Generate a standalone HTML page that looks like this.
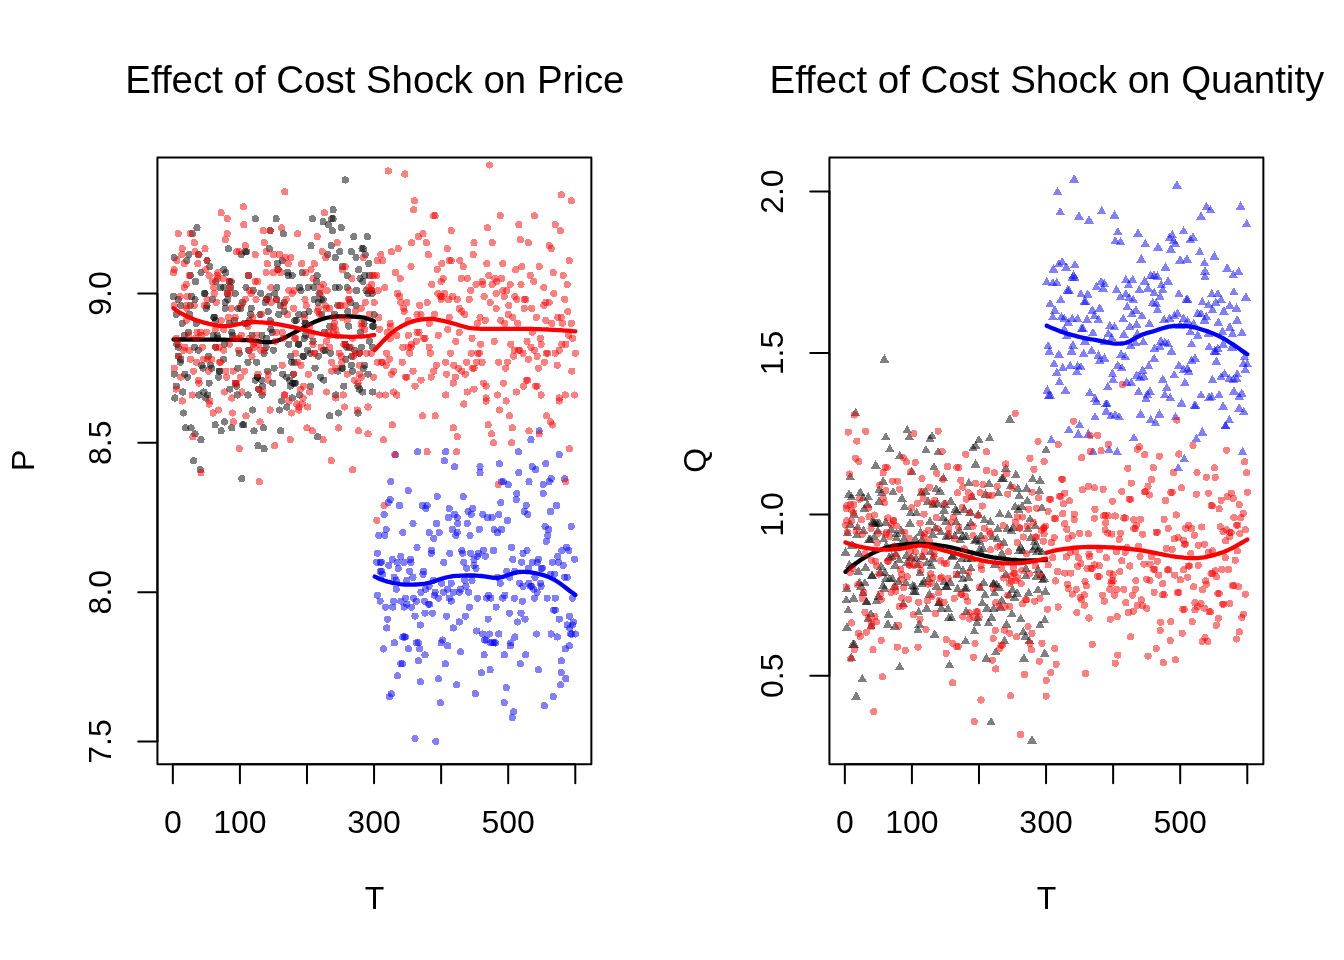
<!DOCTYPE html>
<html lang="en"><head><meta charset="utf-8"><title>Effect of Cost Shock</title>
<style>html,body{margin:0;padding:0;background:#fff}svg{display:block}text{font-family:"Liberation Sans",Arial,Helvetica,sans-serif;fill:#000}</style></head><body>
<svg width="1344" height="960" viewBox="0 0 1344 960">
<rect width="1344" height="960" fill="#fff"/>
<g fill="#000" fill-opacity="0.5" shape-rendering="crispEdges"><circle cx="345.2" cy="180.0" r="3.6"/><circle cx="333.1" cy="209.8" r="3.6"/><circle cx="331.8" cy="218.8" r="3.6"/><circle cx="333.1" cy="218.8" r="3.6"/><circle cx="312.4" cy="218.8" r="3.6"/><circle cx="323.1" cy="221.8" r="3.6"/><circle cx="328.5" cy="224.8" r="3.6"/><circle cx="341.2" cy="227.8" r="3.6"/><circle cx="332.5" cy="230.7" r="3.6"/><circle cx="255.3" cy="218.8" r="3.6"/><circle cx="276.1" cy="218.8" r="3.6"/><circle cx="197.0" cy="227.8" r="3.6"/><circle cx="192.3" cy="233.7" r="3.6"/><circle cx="283.5" cy="233.7" r="3.6"/><circle cx="353.9" cy="236.7" r="3.6"/><circle cx="367.4" cy="236.7" r="3.6"/><circle cx="311.0" cy="245.7" r="3.6"/><circle cx="331.1" cy="245.7" r="3.6"/><circle cx="228.5" cy="248.7" r="3.6"/><circle cx="269.4" cy="248.7" r="3.6"/><circle cx="362.0" cy="248.7" r="3.6"/><circle cx="363.3" cy="248.7" r="3.6"/><circle cx="270.1" cy="230.7" r="3.6"/><circle cx="183.6" cy="413.0" r="3.6"/><circle cx="252.7" cy="410.0" r="3.6"/><circle cx="279.5" cy="410.0" r="3.6"/><circle cx="286.9" cy="407.0" r="3.6"/><circle cx="281.5" cy="401.0" r="3.6"/><circle cx="329.8" cy="415.9" r="3.6"/><circle cx="338.5" cy="413.0" r="3.6"/><circle cx="358.0" cy="413.0" r="3.6"/><circle cx="224.5" cy="421.9" r="3.6"/><circle cx="215.1" cy="424.9" r="3.6"/><circle cx="242.6" cy="424.9" r="3.6"/><circle cx="243.9" cy="424.9" r="3.6"/><circle cx="185.6" cy="427.9" r="3.6"/><circle cx="191.0" cy="427.9" r="3.6"/><circle cx="231.9" cy="427.9" r="3.6"/><circle cx="263.4" cy="427.9" r="3.6"/><circle cx="221.1" cy="430.9" r="3.6"/><circle cx="254.0" cy="430.9" r="3.6"/><circle cx="280.8" cy="430.9" r="3.6"/><circle cx="195.0" cy="433.9" r="3.6"/><circle cx="317.7" cy="436.8" r="3.6"/><circle cx="201.0" cy="439.8" r="3.6"/><circle cx="258.0" cy="445.8" r="3.6"/><circle cx="264.1" cy="448.8" r="3.6"/><circle cx="193.6" cy="460.7" r="3.6"/><circle cx="200.3" cy="469.7" r="3.6"/><circle cx="241.9" cy="478.7" r="3.6"/><circle cx="174.2" cy="257.6" r="3.6"/><circle cx="188.9" cy="254.6" r="3.6"/><circle cx="186.9" cy="260.6" r="3.6"/><circle cx="241.3" cy="254.6" r="3.6"/><circle cx="245.3" cy="251.7" r="3.6"/><circle cx="246.6" cy="251.7" r="3.6"/><circle cx="198.3" cy="254.6" r="3.6"/><circle cx="209.7" cy="266.6" r="3.6"/><circle cx="223.8" cy="269.6" r="3.6"/><circle cx="201.0" cy="272.6" r="3.6"/><circle cx="190.3" cy="275.5" r="3.6"/><circle cx="207.0" cy="260.6" r="3.6"/><circle cx="229.2" cy="281.5" r="3.6"/><circle cx="220.5" cy="287.5" r="3.6"/><circle cx="223.8" cy="287.5" r="3.6"/><circle cx="215.8" cy="281.5" r="3.6"/><circle cx="227.2" cy="293.5" r="3.6"/><circle cx="235.2" cy="293.5" r="3.6"/><circle cx="253.3" cy="290.5" r="3.6"/><circle cx="260.7" cy="293.5" r="3.6"/><circle cx="276.8" cy="287.5" r="3.6"/><circle cx="204.4" cy="293.5" r="3.6"/><circle cx="205.0" cy="293.5" r="3.6"/><circle cx="191.6" cy="296.5" r="3.6"/><circle cx="195.0" cy="299.4" r="3.6"/><circle cx="178.2" cy="299.4" r="3.6"/><circle cx="212.4" cy="299.4" r="3.6"/><circle cx="225.2" cy="302.4" r="3.6"/><circle cx="180.9" cy="305.4" r="3.6"/><circle cx="225.2" cy="308.4" r="3.6"/><circle cx="190.3" cy="305.4" r="3.6"/><circle cx="207.0" cy="305.4" r="3.6"/><circle cx="237.9" cy="308.4" r="3.6"/><circle cx="242.6" cy="302.4" r="3.6"/><circle cx="265.4" cy="302.4" r="3.6"/><circle cx="266.7" cy="299.4" r="3.6"/><circle cx="268.8" cy="296.5" r="3.6"/><circle cx="268.1" cy="311.4" r="3.6"/><circle cx="260.0" cy="314.4" r="3.6"/><circle cx="189.6" cy="314.4" r="3.6"/><circle cx="176.2" cy="314.4" r="3.6"/><circle cx="213.8" cy="317.4" r="3.6"/><circle cx="182.2" cy="323.3" r="3.6"/><circle cx="234.5" cy="320.4" r="3.6"/><circle cx="229.2" cy="323.3" r="3.6"/><circle cx="249.3" cy="320.4" r="3.6"/><circle cx="244.6" cy="323.3" r="3.6"/><circle cx="270.1" cy="320.4" r="3.6"/><circle cx="196.3" cy="323.3" r="3.6"/><circle cx="215.8" cy="320.4" r="3.6"/><circle cx="248.6" cy="275.5" r="3.6"/><circle cx="327.8" cy="254.6" r="3.6"/><circle cx="339.9" cy="251.7" r="3.6"/><circle cx="335.2" cy="257.6" r="3.6"/><circle cx="351.3" cy="251.7" r="3.6"/><circle cx="356.0" cy="257.6" r="3.6"/><circle cx="368.7" cy="263.6" r="3.6"/><circle cx="282.2" cy="260.6" r="3.6"/><circle cx="342.5" cy="266.6" r="3.6"/><circle cx="278.1" cy="269.6" r="3.6"/><circle cx="287.5" cy="272.6" r="3.6"/><circle cx="292.2" cy="275.5" r="3.6"/><circle cx="302.3" cy="272.6" r="3.6"/><circle cx="317.1" cy="275.5" r="3.6"/><circle cx="347.2" cy="275.5" r="3.6"/><circle cx="364.7" cy="275.5" r="3.6"/><circle cx="369.4" cy="275.5" r="3.6"/><circle cx="316.4" cy="281.5" r="3.6"/><circle cx="362.7" cy="281.5" r="3.6"/><circle cx="299.6" cy="287.5" r="3.6"/><circle cx="301.0" cy="290.5" r="3.6"/><circle cx="308.3" cy="287.5" r="3.6"/><circle cx="313.7" cy="287.5" r="3.6"/><circle cx="335.2" cy="287.5" r="3.6"/><circle cx="339.2" cy="287.5" r="3.6"/><circle cx="347.2" cy="287.5" r="3.6"/><circle cx="356.6" cy="290.5" r="3.6"/><circle cx="366.0" cy="290.5" r="3.6"/><circle cx="368.0" cy="293.5" r="3.6"/><circle cx="276.8" cy="299.4" r="3.6"/><circle cx="280.2" cy="305.4" r="3.6"/><circle cx="284.2" cy="302.4" r="3.6"/><circle cx="314.4" cy="299.4" r="3.6"/><circle cx="321.1" cy="299.4" r="3.6"/><circle cx="323.1" cy="299.4" r="3.6"/><circle cx="318.4" cy="302.4" r="3.6"/><circle cx="350.6" cy="302.4" r="3.6"/><circle cx="356.0" cy="305.4" r="3.6"/><circle cx="337.8" cy="305.4" r="3.6"/><circle cx="278.8" cy="314.4" r="3.6"/><circle cx="284.2" cy="311.4" r="3.6"/><circle cx="298.9" cy="314.4" r="3.6"/><circle cx="304.3" cy="314.4" r="3.6"/><circle cx="296.3" cy="320.4" r="3.6"/><circle cx="305.0" cy="323.3" r="3.6"/><circle cx="305.6" cy="323.3" r="3.6"/><circle cx="321.7" cy="314.4" r="3.6"/><circle cx="334.5" cy="314.4" r="3.6"/><circle cx="188.3" cy="332.3" r="3.6"/><circle cx="184.2" cy="335.3" r="3.6"/><circle cx="213.1" cy="335.3" r="3.6"/><circle cx="231.9" cy="332.3" r="3.6"/><circle cx="232.5" cy="335.3" r="3.6"/><circle cx="252.0" cy="335.3" r="3.6"/><circle cx="262.0" cy="335.3" r="3.6"/><circle cx="266.7" cy="338.3" r="3.6"/><circle cx="270.8" cy="329.3" r="3.6"/><circle cx="178.2" cy="347.2" r="3.6"/><circle cx="194.3" cy="347.2" r="3.6"/><circle cx="198.3" cy="350.2" r="3.6"/><circle cx="215.8" cy="347.2" r="3.6"/><circle cx="224.5" cy="344.2" r="3.6"/><circle cx="239.2" cy="353.2" r="3.6"/><circle cx="248.6" cy="350.2" r="3.6"/><circle cx="264.1" cy="353.2" r="3.6"/><circle cx="273.5" cy="350.2" r="3.6"/><circle cx="178.2" cy="356.2" r="3.6"/><circle cx="180.9" cy="359.2" r="3.6"/><circle cx="208.4" cy="356.2" r="3.6"/><circle cx="223.8" cy="359.2" r="3.6"/><circle cx="248.0" cy="362.2" r="3.6"/><circle cx="256.7" cy="362.2" r="3.6"/><circle cx="201.7" cy="365.2" r="3.6"/><circle cx="203.0" cy="368.1" r="3.6"/><circle cx="210.4" cy="365.2" r="3.6"/><circle cx="211.7" cy="368.1" r="3.6"/><circle cx="219.1" cy="371.1" r="3.6"/><circle cx="219.8" cy="371.1" r="3.6"/><circle cx="237.9" cy="368.1" r="3.6"/><circle cx="274.1" cy="368.1" r="3.6"/><circle cx="267.4" cy="371.1" r="3.6"/><circle cx="174.2" cy="374.1" r="3.6"/><circle cx="184.9" cy="374.1" r="3.6"/><circle cx="257.4" cy="377.1" r="3.6"/><circle cx="257.4" cy="377.1" r="3.6"/><circle cx="255.3" cy="380.1" r="3.6"/><circle cx="209.1" cy="383.1" r="3.6"/><circle cx="272.8" cy="383.1" r="3.6"/><circle cx="176.2" cy="386.1" r="3.6"/><circle cx="235.2" cy="383.1" r="3.6"/><circle cx="229.9" cy="389.1" r="3.6"/><circle cx="236.6" cy="386.1" r="3.6"/><circle cx="182.9" cy="392.0" r="3.6"/><circle cx="203.7" cy="392.0" r="3.6"/><circle cx="199.0" cy="395.0" r="3.6"/><circle cx="205.7" cy="398.0" r="3.6"/><circle cx="237.2" cy="395.0" r="3.6"/><circle cx="248.0" cy="395.0" r="3.6"/><circle cx="262.0" cy="395.0" r="3.6"/><circle cx="174.9" cy="398.0" r="3.6"/><circle cx="258.7" cy="389.1" r="3.6"/><circle cx="329.8" cy="326.3" r="3.6"/><circle cx="348.6" cy="326.3" r="3.6"/><circle cx="372.7" cy="326.3" r="3.6"/><circle cx="373.4" cy="326.3" r="3.6"/><circle cx="360.6" cy="332.3" r="3.6"/><circle cx="324.4" cy="332.3" r="3.6"/><circle cx="305.6" cy="335.3" r="3.6"/><circle cx="304.3" cy="338.3" r="3.6"/><circle cx="369.4" cy="341.3" r="3.6"/><circle cx="372.7" cy="347.2" r="3.6"/><circle cx="288.9" cy="344.2" r="3.6"/><circle cx="298.3" cy="344.2" r="3.6"/><circle cx="298.9" cy="344.2" r="3.6"/><circle cx="313.0" cy="341.3" r="3.6"/><circle cx="345.2" cy="344.2" r="3.6"/><circle cx="349.2" cy="347.2" r="3.6"/><circle cx="354.6" cy="350.2" r="3.6"/><circle cx="359.3" cy="353.2" r="3.6"/><circle cx="307.7" cy="350.2" r="3.6"/><circle cx="310.3" cy="353.2" r="3.6"/><circle cx="303.0" cy="356.2" r="3.6"/><circle cx="303.6" cy="356.2" r="3.6"/><circle cx="325.1" cy="350.2" r="3.6"/><circle cx="330.5" cy="353.2" r="3.6"/><circle cx="323.8" cy="350.2" r="3.6"/><circle cx="318.4" cy="356.2" r="3.6"/><circle cx="345.9" cy="359.2" r="3.6"/><circle cx="291.6" cy="362.2" r="3.6"/><circle cx="294.2" cy="362.2" r="3.6"/><circle cx="351.3" cy="365.2" r="3.6"/><circle cx="341.9" cy="368.1" r="3.6"/><circle cx="342.5" cy="368.1" r="3.6"/><circle cx="337.8" cy="371.1" r="3.6"/><circle cx="364.7" cy="365.2" r="3.6"/><circle cx="363.3" cy="368.1" r="3.6"/><circle cx="352.6" cy="371.1" r="3.6"/><circle cx="315.0" cy="368.1" r="3.6"/><circle cx="368.0" cy="374.1" r="3.6"/><circle cx="282.8" cy="374.1" r="3.6"/><circle cx="286.9" cy="377.1" r="3.6"/><circle cx="289.6" cy="380.1" r="3.6"/><circle cx="293.6" cy="374.1" r="3.6"/><circle cx="320.4" cy="377.1" r="3.6"/><circle cx="323.8" cy="380.1" r="3.6"/><circle cx="294.2" cy="383.1" r="3.6"/><circle cx="295.6" cy="383.1" r="3.6"/><circle cx="290.2" cy="386.1" r="3.6"/><circle cx="310.3" cy="386.1" r="3.6"/><circle cx="343.9" cy="386.1" r="3.6"/><circle cx="358.0" cy="386.1" r="3.6"/><circle cx="359.3" cy="389.1" r="3.6"/><circle cx="362.7" cy="392.0" r="3.6"/><circle cx="372.7" cy="392.0" r="3.6"/><circle cx="335.8" cy="395.0" r="3.6"/><circle cx="299.6" cy="395.0" r="3.6"/><circle cx="292.2" cy="398.0" r="3.6"/><circle cx="371.4" cy="290.5" r="3.6"/><circle cx="272.1" cy="332.3" r="3.6"/><circle cx="251.3" cy="308.4" r="3.6"/><circle cx="346.6" cy="347.2" r="3.6"/><circle cx="206.4" cy="308.4" r="3.6"/><circle cx="288.2" cy="275.5" r="3.6"/><circle cx="207.7" cy="395.0" r="3.6"/><circle cx="358.6" cy="269.6" r="3.6"/><circle cx="240.6" cy="308.4" r="3.6"/><circle cx="231.2" cy="281.5" r="3.6"/><circle cx="230.5" cy="287.5" r="3.6"/><circle cx="266.1" cy="347.2" r="3.6"/><circle cx="309.0" cy="311.4" r="3.6"/><circle cx="347.9" cy="311.4" r="3.6"/><circle cx="217.8" cy="338.3" r="3.6"/><circle cx="247.3" cy="323.3" r="3.6"/><circle cx="294.9" cy="320.4" r="3.6"/><circle cx="292.9" cy="383.1" r="3.6"/><circle cx="180.2" cy="362.2" r="3.6"/><circle cx="250.6" cy="314.4" r="3.6"/><circle cx="365.3" cy="254.6" r="3.6"/><circle cx="218.5" cy="377.1" r="3.6"/><circle cx="372.1" cy="293.5" r="3.6"/><circle cx="217.1" cy="335.3" r="3.6"/><circle cx="173.5" cy="296.5" r="3.6"/><circle cx="364.0" cy="323.3" r="3.6"/><circle cx="277.5" cy="263.6" r="3.6"/><circle cx="176.9" cy="344.2" r="3.6"/><circle cx="195.6" cy="281.5" r="3.6"/><circle cx="227.8" cy="299.4" r="3.6"/><circle cx="187.6" cy="377.1" r="3.6"/><circle cx="290.9" cy="356.2" r="3.6"/><circle cx="319.1" cy="293.5" r="3.6"/><circle cx="361.3" cy="347.2" r="3.6"/><circle cx="262.7" cy="386.1" r="3.6"/><circle cx="261.4" cy="380.1" r="3.6"/><circle cx="351.9" cy="356.2" r="3.6"/><circle cx="360.0" cy="278.5" r="3.6"/><circle cx="214.4" cy="317.4" r="3.6"/><circle cx="274.8" cy="293.5" r="3.6"/><circle cx="246.0" cy="287.5" r="3.6"/><circle cx="225.8" cy="272.6" r="3.6"/><circle cx="374.1" cy="314.4" r="3.6"/></g>
<path d="M173.5 339.5 L176.0 339.5 L178.6 339.5 L181.1 339.5 L183.7 339.5 L186.2 339.5 L188.7 339.5 L191.3 339.5 L193.8 339.5 L196.4 339.5 L198.9 339.5 L201.4 339.5 L204.0 339.6 L206.5 339.6 L209.1 339.6 L211.6 339.6 L214.1 339.6 L216.7 339.7 L219.2 339.7 L221.7 339.7 L224.3 339.7 L226.8 339.8 L229.4 339.8 L231.9 339.8 L234.4 339.8 L237.0 339.8 L239.5 339.9 L242.1 340.0 L244.6 340.1 L247.1 340.2 L249.7 340.4 L252.2 340.6 L254.7 340.9 L257.3 341.2 L259.8 341.5 L262.4 341.8 L264.9 342.0 L267.4 342.1 L270.0 342.1 L272.5 341.8 L275.1 341.3 L277.6 340.6 L280.1 339.7 L282.7 338.6 L285.2 337.3 L287.8 336.0 L290.3 334.7 L292.8 333.3 L295.4 332.0 L297.9 330.7 L300.4 329.3 L303.0 328.0 L305.5 326.6 L308.1 325.2 L310.6 323.9 L313.1 322.6 L315.7 321.4 L318.2 320.4 L320.8 319.5 L323.3 318.7 L325.8 318.0 L328.4 317.5 L330.9 317.1 L333.4 316.8 L336.0 316.5 L338.5 316.4 L341.1 316.3 L343.6 316.3 L346.1 316.3 L348.7 316.4 L351.2 316.5 L353.8 316.6 L356.3 316.8 L358.8 317.0 L361.4 317.3 L363.9 317.7 L366.4 318.3 L369.0 319.0 L371.5 319.9 L374.1 321.1" fill="none" stroke="#000" stroke-width="4.3" stroke-linecap="round" stroke-linejoin="round"/>
<g fill="#00f" fill-opacity="0.5" shape-rendering="crispEdges"><circle cx="539.1" cy="430.9" r="3.6"/><circle cx="531.0" cy="439.8" r="3.6"/><circle cx="417.7" cy="451.8" r="3.6"/><circle cx="445.8" cy="451.8" r="3.6"/><circle cx="518.3" cy="451.8" r="3.6"/><circle cx="559.2" cy="454.8" r="3.6"/><circle cx="395.5" cy="454.8" r="3.6"/><circle cx="444.5" cy="460.7" r="3.6"/><circle cx="499.5" cy="463.7" r="3.6"/><circle cx="545.8" cy="463.7" r="3.6"/><circle cx="454.6" cy="466.7" r="3.6"/><circle cx="480.0" cy="466.7" r="3.6"/><circle cx="532.4" cy="466.7" r="3.6"/><circle cx="535.7" cy="469.7" r="3.6"/><circle cx="480.0" cy="472.7" r="3.6"/><circle cx="518.9" cy="472.7" r="3.6"/><circle cx="551.1" cy="478.7" r="3.6"/><circle cx="549.1" cy="481.7" r="3.6"/><circle cx="564.6" cy="478.7" r="3.6"/><circle cx="390.8" cy="481.7" r="3.6"/><circle cx="501.5" cy="481.7" r="3.6"/><circle cx="503.5" cy="481.7" r="3.6"/><circle cx="508.2" cy="484.6" r="3.6"/><circle cx="529.0" cy="481.7" r="3.6"/><circle cx="543.1" cy="484.6" r="3.6"/><circle cx="408.3" cy="490.6" r="3.6"/><circle cx="516.9" cy="493.6" r="3.6"/><circle cx="543.1" cy="493.6" r="3.6"/><circle cx="437.1" cy="496.6" r="3.6"/><circle cx="463.3" cy="496.6" r="3.6"/><circle cx="390.2" cy="499.6" r="3.6"/><circle cx="388.2" cy="502.6" r="3.6"/><circle cx="516.3" cy="499.6" r="3.6"/><circle cx="500.8" cy="502.6" r="3.6"/><circle cx="399.6" cy="505.5" r="3.6"/><circle cx="422.4" cy="505.5" r="3.6"/><circle cx="427.1" cy="505.5" r="3.6"/><circle cx="425.7" cy="508.5" r="3.6"/><circle cx="526.3" cy="505.5" r="3.6"/><circle cx="556.5" cy="505.5" r="3.6"/><circle cx="449.2" cy="508.5" r="3.6"/><circle cx="472.7" cy="508.5" r="3.6"/><circle cx="460.6" cy="651.9" r="3.6"/><circle cx="425.0" cy="654.9" r="3.6"/><circle cx="484.1" cy="654.9" r="3.6"/><circle cx="504.2" cy="654.9" r="3.6"/><circle cx="525.7" cy="654.9" r="3.6"/><circle cx="418.3" cy="660.9" r="3.6"/><circle cx="561.2" cy="660.9" r="3.6"/><circle cx="400.9" cy="663.9" r="3.6"/><circle cx="402.2" cy="663.9" r="3.6"/><circle cx="445.2" cy="663.9" r="3.6"/><circle cx="520.3" cy="663.9" r="3.6"/><circle cx="490.1" cy="669.8" r="3.6"/><circle cx="538.4" cy="669.8" r="3.6"/><circle cx="481.4" cy="672.8" r="3.6"/><circle cx="561.2" cy="672.8" r="3.6"/><circle cx="397.5" cy="675.8" r="3.6"/><circle cx="438.5" cy="678.8" r="3.6"/><circle cx="565.9" cy="678.8" r="3.6"/><circle cx="420.3" cy="681.8" r="3.6"/><circle cx="456.6" cy="684.8" r="3.6"/><circle cx="560.5" cy="684.8" r="3.6"/><circle cx="506.2" cy="687.8" r="3.6"/><circle cx="475.3" cy="693.7" r="3.6"/><circle cx="391.5" cy="693.7" r="3.6"/><circle cx="389.5" cy="696.7" r="3.6"/><circle cx="553.2" cy="696.7" r="3.6"/><circle cx="440.5" cy="702.7" r="3.6"/><circle cx="504.2" cy="702.7" r="3.6"/><circle cx="544.4" cy="705.7" r="3.6"/><circle cx="513.6" cy="711.7" r="3.6"/><circle cx="512.2" cy="717.6" r="3.6"/><circle cx="415.0" cy="738.5" r="3.6"/><circle cx="435.8" cy="741.5" r="3.6"/><circle cx="384.1" cy="514.5" r="3.6"/><circle cx="454.6" cy="514.5" r="3.6"/><circle cx="457.2" cy="517.5" r="3.6"/><circle cx="468.0" cy="511.5" r="3.6"/><circle cx="471.3" cy="514.5" r="3.6"/><circle cx="482.7" cy="514.5" r="3.6"/><circle cx="487.4" cy="517.5" r="3.6"/><circle cx="492.1" cy="517.5" r="3.6"/><circle cx="498.8" cy="514.5" r="3.6"/><circle cx="524.3" cy="511.5" r="3.6"/><circle cx="527.7" cy="514.5" r="3.6"/><circle cx="550.5" cy="511.5" r="3.6"/><circle cx="448.5" cy="517.5" r="3.6"/><circle cx="507.5" cy="520.5" r="3.6"/><circle cx="413.0" cy="523.5" r="3.6"/><circle cx="436.4" cy="523.5" r="3.6"/><circle cx="457.9" cy="523.5" r="3.6"/><circle cx="467.3" cy="523.5" r="3.6"/><circle cx="545.1" cy="526.5" r="3.6"/><circle cx="548.5" cy="529.4" r="3.6"/><circle cx="571.3" cy="526.5" r="3.6"/><circle cx="386.1" cy="529.4" r="3.6"/><circle cx="479.4" cy="529.4" r="3.6"/><circle cx="452.5" cy="529.4" r="3.6"/><circle cx="494.1" cy="529.4" r="3.6"/><circle cx="497.5" cy="532.4" r="3.6"/><circle cx="501.5" cy="529.4" r="3.6"/><circle cx="402.9" cy="532.4" r="3.6"/><circle cx="429.1" cy="532.4" r="3.6"/><circle cx="439.1" cy="532.4" r="3.6"/><circle cx="457.2" cy="532.4" r="3.6"/><circle cx="455.9" cy="535.4" r="3.6"/><circle cx="378.8" cy="535.4" r="3.6"/><circle cx="384.8" cy="535.4" r="3.6"/><circle cx="470.0" cy="535.4" r="3.6"/><circle cx="547.8" cy="535.4" r="3.6"/><circle cx="433.8" cy="538.4" r="3.6"/><circle cx="546.4" cy="541.4" r="3.6"/><circle cx="417.0" cy="547.4" r="3.6"/><circle cx="511.6" cy="547.4" r="3.6"/><circle cx="566.6" cy="547.4" r="3.6"/><circle cx="561.9" cy="550.4" r="3.6"/><circle cx="568.6" cy="550.4" r="3.6"/><circle cx="431.7" cy="550.4" r="3.6"/><circle cx="431.1" cy="553.3" r="3.6"/><circle cx="461.9" cy="550.4" r="3.6"/><circle cx="462.6" cy="553.3" r="3.6"/><circle cx="483.4" cy="550.4" r="3.6"/><circle cx="493.5" cy="550.4" r="3.6"/><circle cx="527.0" cy="550.4" r="3.6"/><circle cx="523.0" cy="553.3" r="3.6"/><circle cx="377.4" cy="553.3" r="3.6"/><circle cx="449.9" cy="553.3" r="3.6"/><circle cx="470.7" cy="553.3" r="3.6"/><circle cx="478.7" cy="553.3" r="3.6"/><circle cx="477.4" cy="556.3" r="3.6"/><circle cx="485.4" cy="556.3" r="3.6"/><circle cx="400.9" cy="556.3" r="3.6"/><circle cx="557.8" cy="556.3" r="3.6"/><circle cx="392.2" cy="559.3" r="3.6"/><circle cx="410.3" cy="559.3" r="3.6"/><circle cx="411.0" cy="562.3" r="3.6"/><circle cx="474.0" cy="559.3" r="3.6"/><circle cx="512.9" cy="559.3" r="3.6"/><circle cx="538.4" cy="559.3" r="3.6"/><circle cx="537.1" cy="562.3" r="3.6"/><circle cx="532.4" cy="562.3" r="3.6"/><circle cx="574.6" cy="559.3" r="3.6"/><circle cx="380.1" cy="562.3" r="3.6"/><circle cx="381.4" cy="562.3" r="3.6"/><circle cx="376.7" cy="562.3" r="3.6"/><circle cx="397.5" cy="562.3" r="3.6"/><circle cx="404.2" cy="562.3" r="3.6"/><circle cx="443.8" cy="562.3" r="3.6"/><circle cx="463.9" cy="562.3" r="3.6"/><circle cx="521.6" cy="562.3" r="3.6"/><circle cx="552.5" cy="562.3" r="3.6"/><circle cx="558.5" cy="562.3" r="3.6"/><circle cx="388.8" cy="565.3" r="3.6"/><circle cx="474.0" cy="565.3" r="3.6"/><circle cx="476.0" cy="568.3" r="3.6"/><circle cx="563.2" cy="565.3" r="3.6"/><circle cx="398.2" cy="568.3" r="3.6"/><circle cx="466.6" cy="568.3" r="3.6"/><circle cx="528.3" cy="568.3" r="3.6"/><circle cx="541.1" cy="568.3" r="3.6"/><circle cx="542.4" cy="568.3" r="3.6"/><circle cx="423.7" cy="571.3" r="3.6"/><circle cx="423.0" cy="574.2" r="3.6"/><circle cx="380.1" cy="571.3" r="3.6"/><circle cx="381.4" cy="571.3" r="3.6"/><circle cx="382.8" cy="574.2" r="3.6"/><circle cx="409.6" cy="571.3" r="3.6"/><circle cx="506.9" cy="571.3" r="3.6"/><circle cx="514.9" cy="571.3" r="3.6"/><circle cx="550.5" cy="574.2" r="3.6"/><circle cx="554.5" cy="574.2" r="3.6"/><circle cx="394.2" cy="577.2" r="3.6"/><circle cx="396.2" cy="580.2" r="3.6"/><circle cx="413.0" cy="577.2" r="3.6"/><circle cx="535.0" cy="577.2" r="3.6"/><circle cx="564.6" cy="577.2" r="3.6"/><circle cx="567.2" cy="577.2" r="3.6"/><circle cx="497.5" cy="577.2" r="3.6"/><circle cx="406.9" cy="580.2" r="3.6"/><circle cx="433.8" cy="580.2" r="3.6"/><circle cx="464.6" cy="580.2" r="3.6"/><circle cx="472.0" cy="580.2" r="3.6"/><circle cx="451.2" cy="583.2" r="3.6"/><circle cx="441.8" cy="583.2" r="3.6"/><circle cx="500.2" cy="583.2" r="3.6"/><circle cx="509.6" cy="577.2" r="3.6"/><circle cx="519.6" cy="583.2" r="3.6"/><circle cx="529.0" cy="583.2" r="3.6"/><circle cx="540.4" cy="583.2" r="3.6"/><circle cx="396.2" cy="589.2" r="3.6"/><circle cx="429.1" cy="586.2" r="3.6"/><circle cx="425.7" cy="589.2" r="3.6"/><circle cx="421.0" cy="592.2" r="3.6"/><circle cx="435.1" cy="592.2" r="3.6"/><circle cx="434.4" cy="595.2" r="3.6"/><circle cx="438.5" cy="598.1" r="3.6"/><circle cx="443.8" cy="592.2" r="3.6"/><circle cx="447.8" cy="589.2" r="3.6"/><circle cx="453.2" cy="592.2" r="3.6"/><circle cx="460.6" cy="589.2" r="3.6"/><circle cx="459.2" cy="592.2" r="3.6"/><circle cx="466.0" cy="586.2" r="3.6"/><circle cx="468.6" cy="592.2" r="3.6"/><circle cx="523.0" cy="586.2" r="3.6"/><circle cx="530.3" cy="586.2" r="3.6"/><circle cx="531.7" cy="586.2" r="3.6"/><circle cx="533.7" cy="589.2" r="3.6"/><circle cx="541.1" cy="586.2" r="3.6"/><circle cx="537.1" cy="592.2" r="3.6"/><circle cx="377.4" cy="595.2" r="3.6"/><circle cx="405.6" cy="598.1" r="3.6"/><circle cx="413.6" cy="598.1" r="3.6"/><circle cx="416.3" cy="601.1" r="3.6"/><circle cx="477.4" cy="598.1" r="3.6"/><circle cx="488.8" cy="595.2" r="3.6"/><circle cx="486.8" cy="598.1" r="3.6"/><circle cx="490.8" cy="598.1" r="3.6"/><circle cx="504.9" cy="595.2" r="3.6"/><circle cx="502.8" cy="598.1" r="3.6"/><circle cx="514.3" cy="598.1" r="3.6"/><circle cx="534.4" cy="598.1" r="3.6"/><circle cx="547.1" cy="598.1" r="3.6"/><circle cx="555.2" cy="598.1" r="3.6"/><circle cx="572.6" cy="598.1" r="3.6"/><circle cx="380.1" cy="601.1" r="3.6"/><circle cx="393.5" cy="601.1" r="3.6"/><circle cx="400.9" cy="601.1" r="3.6"/><circle cx="424.4" cy="601.1" r="3.6"/><circle cx="451.2" cy="601.1" r="3.6"/><circle cx="449.2" cy="598.1" r="3.6"/><circle cx="522.3" cy="601.1" r="3.6"/><circle cx="406.9" cy="604.1" r="3.6"/><circle cx="404.2" cy="607.1" r="3.6"/><circle cx="428.4" cy="604.1" r="3.6"/><circle cx="429.7" cy="604.1" r="3.6"/><circle cx="411.6" cy="607.1" r="3.6"/><circle cx="385.5" cy="607.1" r="3.6"/><circle cx="392.8" cy="607.1" r="3.6"/><circle cx="469.3" cy="607.1" r="3.6"/><circle cx="496.1" cy="607.1" r="3.6"/><circle cx="553.8" cy="610.1" r="3.6"/><circle cx="555.2" cy="610.1" r="3.6"/><circle cx="425.0" cy="613.1" r="3.6"/><circle cx="432.4" cy="613.1" r="3.6"/><circle cx="509.6" cy="613.1" r="3.6"/><circle cx="521.0" cy="613.1" r="3.6"/><circle cx="415.0" cy="616.1" r="3.6"/><circle cx="446.5" cy="616.1" r="3.6"/><circle cx="465.3" cy="616.1" r="3.6"/><circle cx="569.3" cy="616.1" r="3.6"/><circle cx="387.5" cy="619.1" r="3.6"/><circle cx="488.1" cy="619.1" r="3.6"/><circle cx="525.0" cy="619.1" r="3.6"/><circle cx="559.2" cy="619.1" r="3.6"/><circle cx="459.2" cy="622.0" r="3.6"/><circle cx="517.6" cy="622.0" r="3.6"/><circle cx="573.3" cy="622.0" r="3.6"/><circle cx="572.6" cy="625.0" r="3.6"/><circle cx="420.3" cy="625.0" r="3.6"/><circle cx="567.2" cy="625.0" r="3.6"/><circle cx="386.8" cy="628.0" r="3.6"/><circle cx="453.2" cy="628.0" r="3.6"/><circle cx="569.9" cy="628.0" r="3.6"/><circle cx="476.7" cy="631.0" r="3.6"/><circle cx="482.7" cy="634.0" r="3.6"/><circle cx="489.4" cy="634.0" r="3.6"/><circle cx="498.8" cy="634.0" r="3.6"/><circle cx="536.4" cy="634.0" r="3.6"/><circle cx="551.1" cy="634.0" r="3.6"/><circle cx="570.6" cy="634.0" r="3.6"/><circle cx="571.9" cy="634.0" r="3.6"/><circle cx="575.3" cy="634.0" r="3.6"/><circle cx="404.2" cy="637.0" r="3.6"/><circle cx="405.6" cy="637.0" r="3.6"/><circle cx="402.9" cy="637.0" r="3.6"/><circle cx="514.9" cy="637.0" r="3.6"/><circle cx="557.2" cy="637.0" r="3.6"/><circle cx="442.5" cy="640.0" r="3.6"/><circle cx="441.1" cy="642.9" r="3.6"/><circle cx="484.7" cy="640.0" r="3.6"/><circle cx="486.1" cy="640.0" r="3.6"/><circle cx="492.8" cy="642.9" r="3.6"/><circle cx="494.1" cy="642.9" r="3.6"/><circle cx="490.8" cy="642.9" r="3.6"/><circle cx="495.5" cy="642.9" r="3.6"/><circle cx="394.2" cy="642.9" r="3.6"/><circle cx="416.3" cy="642.9" r="3.6"/><circle cx="418.3" cy="642.9" r="3.6"/><circle cx="510.9" cy="642.9" r="3.6"/><circle cx="510.2" cy="645.9" r="3.6"/><circle cx="447.8" cy="645.9" r="3.6"/><circle cx="569.3" cy="645.9" r="3.6"/><circle cx="565.2" cy="648.9" r="3.6"/><circle cx="383.5" cy="648.9" r="3.6"/><circle cx="408.3" cy="648.9" r="3.6"/><circle cx="419.7" cy="648.9" r="3.6"/></g>
<path d="M374.7 576.6 L377.3 577.8 L379.8 579.0 L382.4 579.9 L384.9 580.8 L387.4 581.6 L390.0 582.2 L392.5 582.8 L395.0 583.3 L397.6 583.7 L400.1 584.1 L402.7 584.3 L405.2 584.5 L407.7 584.6 L410.3 584.6 L412.8 584.6 L415.4 584.5 L417.9 584.4 L420.4 584.2 L423.0 584.0 L425.5 583.6 L428.0 583.0 L430.6 582.4 L433.1 581.6 L435.7 580.7 L438.2 579.8 L440.7 579.0 L443.3 578.2 L445.8 577.5 L448.4 577.0 L450.9 576.5 L453.4 576.2 L456.0 575.9 L458.5 575.8 L461.0 575.6 L463.6 575.6 L466.1 575.5 L468.7 575.5 L471.2 575.5 L473.7 575.5 L476.3 575.6 L478.8 575.8 L481.4 576.0 L483.9 576.3 L486.4 576.7 L489.0 577.1 L491.5 577.5 L494.1 577.8 L496.6 577.9 L499.1 577.7 L501.7 577.2 L504.2 576.4 L506.7 575.5 L509.3 574.5 L511.8 573.7 L514.4 572.9 L516.9 572.3 L519.4 572.0 L522.0 571.8 L524.5 571.8 L527.1 572.0 L529.6 572.2 L532.1 572.6 L534.7 573.0 L537.2 573.5 L539.7 574.1 L542.3 574.8 L544.8 575.6 L547.4 576.5 L549.9 577.6 L552.4 578.8 L555.0 580.2 L557.5 581.8 L560.1 583.5 L562.6 585.4 L565.1 587.3 L567.7 589.2 L570.2 591.2 L572.8 593.1 L575.3 595.0" fill="none" stroke="#00f" stroke-width="4.3" stroke-linecap="round" stroke-linejoin="round"/>
<g fill="#f00" fill-opacity="0.5" shape-rendering="crispEdges"><circle cx="284.9" cy="191.9" r="3.6"/><circle cx="243.3" cy="206.8" r="3.6"/><circle cx="221.1" cy="212.8" r="3.6"/><circle cx="227.2" cy="218.8" r="3.6"/><circle cx="324.4" cy="212.8" r="3.6"/><circle cx="243.9" cy="224.8" r="3.6"/><circle cx="281.5" cy="227.8" r="3.6"/><circle cx="263.4" cy="230.7" r="3.6"/><circle cx="270.1" cy="230.7" r="3.6"/><circle cx="178.2" cy="233.7" r="3.6"/><circle cx="190.3" cy="233.7" r="3.6"/><circle cx="227.2" cy="233.7" r="3.6"/><circle cx="297.6" cy="233.7" r="3.6"/><circle cx="317.1" cy="236.7" r="3.6"/><circle cx="225.2" cy="239.7" r="3.6"/><circle cx="194.3" cy="242.7" r="3.6"/><circle cx="264.1" cy="242.7" r="3.6"/><circle cx="337.2" cy="242.7" r="3.6"/><circle cx="245.3" cy="245.7" r="3.6"/><circle cx="182.2" cy="248.7" r="3.6"/><circle cx="205.0" cy="248.7" r="3.6"/><circle cx="489.4" cy="165.0" r="3.6"/><circle cx="388.2" cy="171.0" r="3.6"/><circle cx="404.9" cy="174.0" r="3.6"/><circle cx="561.2" cy="194.9" r="3.6"/><circle cx="571.3" cy="200.9" r="3.6"/><circle cx="414.3" cy="200.9" r="3.6"/><circle cx="413.6" cy="209.8" r="3.6"/><circle cx="433.8" cy="215.8" r="3.6"/><circle cx="435.1" cy="215.8" r="3.6"/><circle cx="500.2" cy="215.8" r="3.6"/><circle cx="534.4" cy="215.8" r="3.6"/><circle cx="518.9" cy="224.8" r="3.6"/><circle cx="555.2" cy="224.8" r="3.6"/><circle cx="487.4" cy="227.8" r="3.6"/><circle cx="451.2" cy="230.7" r="3.6"/><circle cx="560.5" cy="230.7" r="3.6"/><circle cx="423.0" cy="233.7" r="3.6"/><circle cx="418.3" cy="236.7" r="3.6"/><circle cx="520.3" cy="239.7" r="3.6"/><circle cx="411.6" cy="242.7" r="3.6"/><circle cx="426.4" cy="242.7" r="3.6"/><circle cx="474.0" cy="242.7" r="3.6"/><circle cx="492.1" cy="242.7" r="3.6"/><circle cx="528.3" cy="242.7" r="3.6"/><circle cx="549.1" cy="245.7" r="3.6"/><circle cx="551.1" cy="248.7" r="3.6"/><circle cx="398.2" cy="248.7" r="3.6"/><circle cx="447.2" cy="248.7" r="3.6"/><circle cx="182.2" cy="401.0" r="3.6"/><circle cx="209.7" cy="401.0" r="3.6"/><circle cx="209.1" cy="404.0" r="3.6"/><circle cx="218.5" cy="410.0" r="3.6"/><circle cx="213.1" cy="413.0" r="3.6"/><circle cx="232.5" cy="413.0" r="3.6"/><circle cx="246.0" cy="415.9" r="3.6"/><circle cx="270.1" cy="410.0" r="3.6"/><circle cx="291.6" cy="413.0" r="3.6"/><circle cx="296.9" cy="404.0" r="3.6"/><circle cx="298.9" cy="407.0" r="3.6"/><circle cx="298.9" cy="410.0" r="3.6"/><circle cx="307.7" cy="407.0" r="3.6"/><circle cx="302.3" cy="404.0" r="3.6"/><circle cx="288.9" cy="401.0" r="3.6"/><circle cx="344.6" cy="407.0" r="3.6"/><circle cx="357.3" cy="410.0" r="3.6"/><circle cx="368.0" cy="407.0" r="3.6"/><circle cx="233.2" cy="421.9" r="3.6"/><circle cx="260.0" cy="421.9" r="3.6"/><circle cx="307.0" cy="427.9" r="3.6"/><circle cx="312.4" cy="430.9" r="3.6"/><circle cx="338.5" cy="427.9" r="3.6"/><circle cx="358.6" cy="430.9" r="3.6"/><circle cx="368.0" cy="433.9" r="3.6"/><circle cx="193.0" cy="436.8" r="3.6"/><circle cx="290.2" cy="439.8" r="3.6"/><circle cx="323.1" cy="439.8" r="3.6"/><circle cx="274.8" cy="445.8" r="3.6"/><circle cx="239.2" cy="448.8" r="3.6"/><circle cx="331.1" cy="460.7" r="3.6"/><circle cx="352.6" cy="469.7" r="3.6"/><circle cx="201.0" cy="472.7" r="3.6"/><circle cx="259.4" cy="481.7" r="3.6"/><circle cx="463.9" cy="404.0" r="3.6"/><circle cx="486.1" cy="401.0" r="3.6"/><circle cx="506.2" cy="401.0" r="3.6"/><circle cx="559.2" cy="401.0" r="3.6"/><circle cx="499.5" cy="410.0" r="3.6"/><circle cx="422.4" cy="415.9" r="3.6"/><circle cx="435.1" cy="415.9" r="3.6"/><circle cx="509.6" cy="415.9" r="3.6"/><circle cx="546.4" cy="415.9" r="3.6"/><circle cx="550.5" cy="421.9" r="3.6"/><circle cx="552.5" cy="424.9" r="3.6"/><circle cx="392.2" cy="424.9" r="3.6"/><circle cx="488.1" cy="424.9" r="3.6"/><circle cx="453.2" cy="427.9" r="3.6"/><circle cx="512.2" cy="427.9" r="3.6"/><circle cx="529.0" cy="430.9" r="3.6"/><circle cx="539.1" cy="433.9" r="3.6"/><circle cx="491.4" cy="433.9" r="3.6"/><circle cx="457.2" cy="436.8" r="3.6"/><circle cx="383.5" cy="439.8" r="3.6"/><circle cx="493.5" cy="442.8" r="3.6"/><circle cx="511.6" cy="442.8" r="3.6"/><circle cx="569.3" cy="448.8" r="3.6"/><circle cx="427.1" cy="451.8" r="3.6"/><circle cx="456.6" cy="451.8" r="3.6"/><circle cx="394.9" cy="454.8" r="3.6"/><circle cx="498.2" cy="484.6" r="3.6"/><circle cx="565.9" cy="481.7" r="3.6"/><circle cx="384.1" cy="505.5" r="3.6"/><circle cx="376.7" cy="520.5" r="3.6"/><circle cx="391.5" cy="251.7" r="3.6"/><circle cx="380.8" cy="254.6" r="3.6"/><circle cx="428.4" cy="254.6" r="3.6"/><circle cx="473.3" cy="254.6" r="3.6"/><circle cx="377.4" cy="260.6" r="3.6"/><circle cx="382.8" cy="260.6" r="3.6"/><circle cx="449.2" cy="260.6" r="3.6"/><circle cx="451.2" cy="260.6" r="3.6"/><circle cx="459.9" cy="260.6" r="3.6"/><circle cx="569.3" cy="260.6" r="3.6"/><circle cx="441.8" cy="263.6" r="3.6"/><circle cx="486.8" cy="263.6" r="3.6"/><circle cx="502.8" cy="263.6" r="3.6"/><circle cx="411.0" cy="266.6" r="3.6"/><circle cx="463.3" cy="266.6" r="3.6"/><circle cx="521.6" cy="266.6" r="3.6"/><circle cx="539.1" cy="266.6" r="3.6"/><circle cx="437.1" cy="269.6" r="3.6"/><circle cx="515.6" cy="269.6" r="3.6"/><circle cx="395.5" cy="272.6" r="3.6"/><circle cx="553.2" cy="272.6" r="3.6"/><circle cx="376.7" cy="275.5" r="3.6"/><circle cx="488.8" cy="275.5" r="3.6"/><circle cx="530.3" cy="275.5" r="3.6"/><circle cx="563.2" cy="275.5" r="3.6"/><circle cx="400.2" cy="278.5" r="3.6"/><circle cx="443.2" cy="278.5" r="3.6"/><circle cx="441.1" cy="281.5" r="3.6"/><circle cx="461.3" cy="278.5" r="3.6"/><circle cx="467.3" cy="278.5" r="3.6"/><circle cx="494.8" cy="278.5" r="3.6"/><circle cx="501.5" cy="278.5" r="3.6"/><circle cx="496.8" cy="281.5" r="3.6"/><circle cx="492.1" cy="284.5" r="3.6"/><circle cx="482.1" cy="281.5" r="3.6"/><circle cx="482.7" cy="284.5" r="3.6"/><circle cx="533.7" cy="281.5" r="3.6"/><circle cx="431.7" cy="284.5" r="3.6"/><circle cx="476.0" cy="284.5" r="3.6"/><circle cx="510.2" cy="284.5" r="3.6"/><circle cx="521.0" cy="284.5" r="3.6"/><circle cx="567.2" cy="284.5" r="3.6"/><circle cx="384.8" cy="287.5" r="3.6"/><circle cx="543.8" cy="287.5" r="3.6"/><circle cx="378.1" cy="290.5" r="3.6"/><circle cx="470.7" cy="290.5" r="3.6"/><circle cx="502.8" cy="290.5" r="3.6"/><circle cx="506.9" cy="290.5" r="3.6"/><circle cx="397.5" cy="293.5" r="3.6"/><circle cx="399.6" cy="296.5" r="3.6"/><circle cx="437.8" cy="293.5" r="3.6"/><circle cx="444.5" cy="293.5" r="3.6"/><circle cx="496.1" cy="293.5" r="3.6"/><circle cx="553.8" cy="293.5" r="3.6"/><circle cx="440.5" cy="296.5" r="3.6"/><circle cx="441.8" cy="296.5" r="3.6"/><circle cx="452.5" cy="296.5" r="3.6"/><circle cx="484.1" cy="296.5" r="3.6"/><circle cx="504.2" cy="296.5" r="3.6"/><circle cx="514.9" cy="296.5" r="3.6"/><circle cx="457.2" cy="299.4" r="3.6"/><circle cx="469.3" cy="299.4" r="3.6"/><circle cx="448.5" cy="299.4" r="3.6"/><circle cx="441.1" cy="299.4" r="3.6"/><circle cx="516.9" cy="299.4" r="3.6"/><circle cx="524.3" cy="299.4" r="3.6"/><circle cx="525.7" cy="299.4" r="3.6"/><circle cx="564.6" cy="299.4" r="3.6"/><circle cx="400.9" cy="302.4" r="3.6"/><circle cx="406.9" cy="302.4" r="3.6"/><circle cx="427.1" cy="302.4" r="3.6"/><circle cx="490.1" cy="302.4" r="3.6"/><circle cx="549.1" cy="302.4" r="3.6"/><circle cx="543.8" cy="305.4" r="3.6"/><circle cx="545.8" cy="302.4" r="3.6"/><circle cx="419.7" cy="305.4" r="3.6"/><circle cx="508.9" cy="305.4" r="3.6"/><circle cx="403.6" cy="308.4" r="3.6"/><circle cx="404.2" cy="311.4" r="3.6"/><circle cx="459.2" cy="308.4" r="3.6"/><circle cx="461.9" cy="311.4" r="3.6"/><circle cx="464.6" cy="314.4" r="3.6"/><circle cx="496.1" cy="308.4" r="3.6"/><circle cx="524.3" cy="308.4" r="3.6"/><circle cx="531.7" cy="308.4" r="3.6"/><circle cx="567.9" cy="311.4" r="3.6"/><circle cx="417.0" cy="314.4" r="3.6"/><circle cx="421.0" cy="314.4" r="3.6"/><circle cx="434.4" cy="314.4" r="3.6"/><circle cx="508.2" cy="314.4" r="3.6"/><circle cx="378.8" cy="317.4" r="3.6"/><circle cx="449.2" cy="317.4" r="3.6"/><circle cx="480.0" cy="317.4" r="3.6"/><circle cx="512.9" cy="317.4" r="3.6"/><circle cx="536.4" cy="317.4" r="3.6"/><circle cx="557.8" cy="317.4" r="3.6"/><circle cx="561.2" cy="317.4" r="3.6"/><circle cx="408.3" cy="320.4" r="3.6"/><circle cx="485.4" cy="320.4" r="3.6"/><circle cx="500.8" cy="320.4" r="3.6"/><circle cx="545.8" cy="320.4" r="3.6"/><circle cx="429.1" cy="323.3" r="3.6"/><circle cx="477.4" cy="323.3" r="3.6"/><circle cx="504.9" cy="323.3" r="3.6"/><circle cx="517.6" cy="323.3" r="3.6"/><circle cx="551.8" cy="323.3" r="3.6"/><circle cx="390.2" cy="323.3" r="3.6"/><circle cx="571.3" cy="323.3" r="3.6"/><circle cx="562.5" cy="323.3" r="3.6"/><circle cx="390.2" cy="326.3" r="3.6"/><circle cx="379.4" cy="329.3" r="3.6"/><circle cx="447.8" cy="329.3" r="3.6"/><circle cx="387.5" cy="332.3" r="3.6"/><circle cx="419.0" cy="332.3" r="3.6"/><circle cx="417.0" cy="332.3" r="3.6"/><circle cx="459.2" cy="332.3" r="3.6"/><circle cx="532.4" cy="332.3" r="3.6"/><circle cx="408.3" cy="335.3" r="3.6"/><circle cx="438.5" cy="335.3" r="3.6"/><circle cx="396.9" cy="335.3" r="3.6"/><circle cx="390.2" cy="338.3" r="3.6"/><circle cx="423.7" cy="338.3" r="3.6"/><circle cx="425.0" cy="338.3" r="3.6"/><circle cx="472.0" cy="338.3" r="3.6"/><circle cx="540.4" cy="338.3" r="3.6"/><circle cx="572.6" cy="338.3" r="3.6"/><circle cx="568.6" cy="335.3" r="3.6"/><circle cx="416.3" cy="341.3" r="3.6"/><circle cx="455.9" cy="341.3" r="3.6"/><circle cx="494.1" cy="341.3" r="3.6"/><circle cx="527.0" cy="341.3" r="3.6"/><circle cx="411.6" cy="344.2" r="3.6"/><circle cx="480.7" cy="344.2" r="3.6"/><circle cx="510.9" cy="344.2" r="3.6"/><circle cx="541.1" cy="344.2" r="3.6"/><circle cx="565.9" cy="344.2" r="3.6"/><circle cx="561.9" cy="344.2" r="3.6"/><circle cx="402.9" cy="347.2" r="3.6"/><circle cx="408.3" cy="347.2" r="3.6"/><circle cx="411.0" cy="347.2" r="3.6"/><circle cx="429.1" cy="347.2" r="3.6"/><circle cx="514.3" cy="350.2" r="3.6"/><circle cx="518.3" cy="350.2" r="3.6"/><circle cx="519.6" cy="350.2" r="3.6"/><circle cx="523.0" cy="353.2" r="3.6"/><circle cx="531.0" cy="347.2" r="3.6"/><circle cx="534.4" cy="350.2" r="3.6"/><circle cx="537.1" cy="356.2" r="3.6"/><circle cx="559.2" cy="350.2" r="3.6"/><circle cx="386.8" cy="353.2" r="3.6"/><circle cx="409.6" cy="353.2" r="3.6"/><circle cx="430.4" cy="353.2" r="3.6"/><circle cx="450.5" cy="353.2" r="3.6"/><circle cx="471.3" cy="353.2" r="3.6"/><circle cx="478.0" cy="353.2" r="3.6"/><circle cx="479.4" cy="353.2" r="3.6"/><circle cx="546.4" cy="353.2" r="3.6"/><circle cx="547.8" cy="353.2" r="3.6"/><circle cx="555.2" cy="353.2" r="3.6"/><circle cx="575.3" cy="353.2" r="3.6"/><circle cx="513.6" cy="356.2" r="3.6"/><circle cx="389.5" cy="359.2" r="3.6"/><circle cx="528.3" cy="359.2" r="3.6"/><circle cx="381.4" cy="362.2" r="3.6"/><circle cx="382.8" cy="362.2" r="3.6"/><circle cx="377.4" cy="362.2" r="3.6"/><circle cx="402.2" cy="362.2" r="3.6"/><circle cx="445.8" cy="362.2" r="3.6"/><circle cx="466.6" cy="362.2" r="3.6"/><circle cx="476.7" cy="362.2" r="3.6"/><circle cx="482.1" cy="362.2" r="3.6"/><circle cx="498.8" cy="362.2" r="3.6"/><circle cx="507.5" cy="362.2" r="3.6"/><circle cx="544.4" cy="362.2" r="3.6"/><circle cx="386.1" cy="365.2" r="3.6"/><circle cx="436.4" cy="365.2" r="3.6"/><circle cx="453.9" cy="365.2" r="3.6"/><circle cx="557.2" cy="365.2" r="3.6"/><circle cx="458.6" cy="368.1" r="3.6"/><circle cx="461.9" cy="371.1" r="3.6"/><circle cx="465.3" cy="374.1" r="3.6"/><circle cx="472.7" cy="368.1" r="3.6"/><circle cx="474.0" cy="368.1" r="3.6"/><circle cx="505.5" cy="368.1" r="3.6"/><circle cx="538.4" cy="368.1" r="3.6"/><circle cx="393.5" cy="371.1" r="3.6"/><circle cx="391.5" cy="374.1" r="3.6"/><circle cx="413.0" cy="371.1" r="3.6"/><circle cx="433.8" cy="371.1" r="3.6"/><circle cx="571.9" cy="371.1" r="3.6"/><circle cx="446.5" cy="374.1" r="3.6"/><circle cx="405.6" cy="377.1" r="3.6"/><circle cx="406.9" cy="377.1" r="3.6"/><circle cx="431.1" cy="377.1" r="3.6"/><circle cx="455.2" cy="377.1" r="3.6"/><circle cx="421.0" cy="380.1" r="3.6"/><circle cx="526.3" cy="380.1" r="3.6"/><circle cx="527.7" cy="380.1" r="3.6"/><circle cx="453.2" cy="383.1" r="3.6"/><circle cx="483.4" cy="383.1" r="3.6"/><circle cx="486.1" cy="386.1" r="3.6"/><circle cx="503.5" cy="383.1" r="3.6"/><circle cx="415.0" cy="386.1" r="3.6"/><circle cx="523.6" cy="386.1" r="3.6"/><circle cx="535.7" cy="386.1" r="3.6"/><circle cx="537.1" cy="386.1" r="3.6"/><circle cx="474.0" cy="389.1" r="3.6"/><circle cx="467.3" cy="392.0" r="3.6"/><circle cx="516.3" cy="392.0" r="3.6"/><circle cx="393.5" cy="392.0" r="3.6"/><circle cx="396.9" cy="395.0" r="3.6"/><circle cx="379.4" cy="395.0" r="3.6"/><circle cx="385.5" cy="395.0" r="3.6"/><circle cx="445.8" cy="395.0" r="3.6"/><circle cx="497.5" cy="395.0" r="3.6"/><circle cx="541.1" cy="395.0" r="3.6"/><circle cx="565.2" cy="395.0" r="3.6"/><circle cx="574.6" cy="395.0" r="3.6"/><circle cx="486.1" cy="398.0" r="3.6"/><circle cx="559.2" cy="398.0" r="3.6"/><circle cx="181.6" cy="254.6" r="3.6"/><circle cx="195.0" cy="251.7" r="3.6"/><circle cx="199.0" cy="254.6" r="3.6"/><circle cx="184.2" cy="263.6" r="3.6"/><circle cx="197.7" cy="263.6" r="3.6"/><circle cx="207.0" cy="260.6" r="3.6"/><circle cx="174.2" cy="269.6" r="3.6"/><circle cx="173.5" cy="272.6" r="3.6"/><circle cx="189.6" cy="275.5" r="3.6"/><circle cx="205.7" cy="269.6" r="3.6"/><circle cx="209.1" cy="275.5" r="3.6"/><circle cx="217.8" cy="272.6" r="3.6"/><circle cx="217.1" cy="275.5" r="3.6"/><circle cx="217.8" cy="278.5" r="3.6"/><circle cx="223.1" cy="278.5" r="3.6"/><circle cx="212.4" cy="281.5" r="3.6"/><circle cx="236.6" cy="251.7" r="3.6"/><circle cx="239.2" cy="251.7" r="3.6"/><circle cx="255.3" cy="254.6" r="3.6"/><circle cx="267.4" cy="263.6" r="3.6"/><circle cx="266.1" cy="251.7" r="3.6"/><circle cx="273.5" cy="254.6" r="3.6"/><circle cx="248.6" cy="275.5" r="3.6"/><circle cx="255.3" cy="281.5" r="3.6"/><circle cx="257.4" cy="281.5" r="3.6"/><circle cx="266.1" cy="272.6" r="3.6"/><circle cx="273.5" cy="272.6" r="3.6"/><circle cx="277.5" cy="269.6" r="3.6"/><circle cx="186.3" cy="284.5" r="3.6"/><circle cx="184.2" cy="287.5" r="3.6"/><circle cx="229.2" cy="281.5" r="3.6"/><circle cx="229.9" cy="287.5" r="3.6"/><circle cx="229.9" cy="293.5" r="3.6"/><circle cx="213.8" cy="287.5" r="3.6"/><circle cx="214.4" cy="293.5" r="3.6"/><circle cx="249.3" cy="290.5" r="3.6"/><circle cx="251.3" cy="293.5" r="3.6"/><circle cx="270.8" cy="287.5" r="3.6"/><circle cx="180.2" cy="296.5" r="3.6"/><circle cx="207.0" cy="299.4" r="3.6"/><circle cx="216.4" cy="302.4" r="3.6"/><circle cx="245.3" cy="299.4" r="3.6"/><circle cx="241.3" cy="305.4" r="3.6"/><circle cx="256.0" cy="299.4" r="3.6"/><circle cx="276.1" cy="299.4" r="3.6"/><circle cx="174.2" cy="305.4" r="3.6"/><circle cx="186.3" cy="305.4" r="3.6"/><circle cx="186.9" cy="308.4" r="3.6"/><circle cx="194.3" cy="305.4" r="3.6"/><circle cx="204.4" cy="305.4" r="3.6"/><circle cx="231.2" cy="308.4" r="3.6"/><circle cx="261.4" cy="314.4" r="3.6"/><circle cx="252.7" cy="317.4" r="3.6"/><circle cx="228.5" cy="317.4" r="3.6"/><circle cx="235.2" cy="317.4" r="3.6"/><circle cx="221.1" cy="320.4" r="3.6"/><circle cx="186.3" cy="320.4" r="3.6"/><circle cx="270.8" cy="323.3" r="3.6"/><circle cx="279.5" cy="254.6" r="3.6"/><circle cx="285.5" cy="257.6" r="3.6"/><circle cx="290.9" cy="257.6" r="3.6"/><circle cx="288.2" cy="263.6" r="3.6"/><circle cx="322.4" cy="251.7" r="3.6"/><circle cx="301.6" cy="263.6" r="3.6"/><circle cx="314.4" cy="263.6" r="3.6"/><circle cx="363.3" cy="257.6" r="3.6"/><circle cx="345.2" cy="266.6" r="3.6"/><circle cx="342.5" cy="269.6" r="3.6"/><circle cx="311.0" cy="269.6" r="3.6"/><circle cx="305.6" cy="272.6" r="3.6"/><circle cx="280.8" cy="272.6" r="3.6"/><circle cx="313.0" cy="278.5" r="3.6"/><circle cx="351.9" cy="278.5" r="3.6"/><circle cx="372.1" cy="275.5" r="3.6"/><circle cx="374.1" cy="275.5" r="3.6"/><circle cx="323.1" cy="284.5" r="3.6"/><circle cx="320.4" cy="287.5" r="3.6"/><circle cx="371.4" cy="284.5" r="3.6"/><circle cx="288.9" cy="290.5" r="3.6"/><circle cx="294.2" cy="290.5" r="3.6"/><circle cx="292.2" cy="293.5" r="3.6"/><circle cx="327.1" cy="290.5" r="3.6"/><circle cx="320.4" cy="293.5" r="3.6"/><circle cx="349.2" cy="290.5" r="3.6"/><circle cx="370.0" cy="290.5" r="3.6"/><circle cx="371.4" cy="290.5" r="3.6"/><circle cx="305.0" cy="299.4" r="3.6"/><circle cx="306.3" cy="305.4" r="3.6"/><circle cx="286.2" cy="299.4" r="3.6"/><circle cx="348.6" cy="299.4" r="3.6"/><circle cx="349.2" cy="299.4" r="3.6"/><circle cx="365.3" cy="302.4" r="3.6"/><circle cx="374.1" cy="302.4" r="3.6"/><circle cx="339.9" cy="305.4" r="3.6"/><circle cx="340.5" cy="305.4" r="3.6"/><circle cx="345.2" cy="305.4" r="3.6"/><circle cx="283.5" cy="305.4" r="3.6"/><circle cx="293.6" cy="308.4" r="3.6"/><circle cx="318.4" cy="308.4" r="3.6"/><circle cx="317.7" cy="311.4" r="3.6"/><circle cx="319.7" cy="314.4" r="3.6"/><circle cx="326.4" cy="308.4" r="3.6"/><circle cx="329.8" cy="308.4" r="3.6"/><circle cx="361.3" cy="308.4" r="3.6"/><circle cx="355.3" cy="311.4" r="3.6"/><circle cx="369.4" cy="314.4" r="3.6"/><circle cx="287.5" cy="314.4" r="3.6"/><circle cx="304.3" cy="317.4" r="3.6"/><circle cx="333.8" cy="317.4" r="3.6"/><circle cx="341.9" cy="317.4" r="3.6"/><circle cx="347.2" cy="320.4" r="3.6"/><circle cx="361.3" cy="323.3" r="3.6"/><circle cx="215.1" cy="329.3" r="3.6"/><circle cx="223.8" cy="329.3" r="3.6"/><circle cx="248.0" cy="326.3" r="3.6"/><circle cx="200.3" cy="332.3" r="3.6"/><circle cx="201.7" cy="335.3" r="3.6"/><circle cx="188.3" cy="335.3" r="3.6"/><circle cx="176.2" cy="338.3" r="3.6"/><circle cx="195.6" cy="338.3" r="3.6"/><circle cx="241.3" cy="335.3" r="3.6"/><circle cx="233.2" cy="338.3" r="3.6"/><circle cx="236.6" cy="338.3" r="3.6"/><circle cx="239.2" cy="338.3" r="3.6"/><circle cx="249.3" cy="338.3" r="3.6"/><circle cx="252.7" cy="341.3" r="3.6"/><circle cx="276.1" cy="332.3" r="3.6"/><circle cx="275.5" cy="341.3" r="3.6"/><circle cx="178.2" cy="344.2" r="3.6"/><circle cx="184.9" cy="347.2" r="3.6"/><circle cx="189.6" cy="350.2" r="3.6"/><circle cx="202.4" cy="347.2" r="3.6"/><circle cx="219.1" cy="347.2" r="3.6"/><circle cx="223.8" cy="350.2" r="3.6"/><circle cx="229.2" cy="344.2" r="3.6"/><circle cx="238.6" cy="350.2" r="3.6"/><circle cx="249.3" cy="350.2" r="3.6"/><circle cx="254.0" cy="347.2" r="3.6"/><circle cx="258.7" cy="344.2" r="3.6"/><circle cx="260.7" cy="350.2" r="3.6"/><circle cx="264.1" cy="350.2" r="3.6"/><circle cx="252.0" cy="356.2" r="3.6"/><circle cx="178.9" cy="356.2" r="3.6"/><circle cx="190.3" cy="359.2" r="3.6"/><circle cx="196.3" cy="362.2" r="3.6"/><circle cx="203.7" cy="359.2" r="3.6"/><circle cx="207.7" cy="359.2" r="3.6"/><circle cx="211.7" cy="359.2" r="3.6"/><circle cx="220.5" cy="362.2" r="3.6"/><circle cx="174.2" cy="368.1" r="3.6"/><circle cx="193.6" cy="371.1" r="3.6"/><circle cx="208.4" cy="371.1" r="3.6"/><circle cx="225.8" cy="371.1" r="3.6"/><circle cx="233.2" cy="371.1" r="3.6"/><circle cx="244.6" cy="371.1" r="3.6"/><circle cx="268.1" cy="374.1" r="3.6"/><circle cx="180.9" cy="377.1" r="3.6"/><circle cx="226.5" cy="377.1" r="3.6"/><circle cx="240.6" cy="377.1" r="3.6"/><circle cx="198.3" cy="380.1" r="3.6"/><circle cx="199.0" cy="383.1" r="3.6"/><circle cx="268.1" cy="380.1" r="3.6"/><circle cx="235.9" cy="383.1" r="3.6"/><circle cx="236.6" cy="383.1" r="3.6"/><circle cx="176.2" cy="389.1" r="3.6"/><circle cx="224.5" cy="392.0" r="3.6"/><circle cx="241.9" cy="392.0" r="3.6"/><circle cx="258.7" cy="389.1" r="3.6"/><circle cx="262.7" cy="392.0" r="3.6"/><circle cx="192.3" cy="395.0" r="3.6"/><circle cx="231.9" cy="398.0" r="3.6"/><circle cx="333.8" cy="326.3" r="3.6"/><circle cx="335.8" cy="329.3" r="3.6"/><circle cx="362.0" cy="326.3" r="3.6"/><circle cx="364.7" cy="329.3" r="3.6"/><circle cx="282.2" cy="332.3" r="3.6"/><circle cx="309.7" cy="326.3" r="3.6"/><circle cx="311.0" cy="335.3" r="3.6"/><circle cx="328.5" cy="332.3" r="3.6"/><circle cx="333.1" cy="332.3" r="3.6"/><circle cx="337.2" cy="335.3" r="3.6"/><circle cx="294.9" cy="338.3" r="3.6"/><circle cx="295.6" cy="338.3" r="3.6"/><circle cx="352.6" cy="338.3" r="3.6"/><circle cx="283.5" cy="338.3" r="3.6"/><circle cx="313.0" cy="344.2" r="3.6"/><circle cx="326.4" cy="341.3" r="3.6"/><circle cx="329.8" cy="347.2" r="3.6"/><circle cx="321.1" cy="347.2" r="3.6"/><circle cx="345.2" cy="344.2" r="3.6"/><circle cx="350.6" cy="347.2" r="3.6"/><circle cx="355.3" cy="353.2" r="3.6"/><circle cx="359.3" cy="353.2" r="3.6"/><circle cx="366.7" cy="353.2" r="3.6"/><circle cx="371.4" cy="353.2" r="3.6"/><circle cx="295.6" cy="353.2" r="3.6"/><circle cx="314.4" cy="353.2" r="3.6"/><circle cx="315.0" cy="353.2" r="3.6"/><circle cx="339.2" cy="353.2" r="3.6"/><circle cx="341.2" cy="356.2" r="3.6"/><circle cx="353.3" cy="356.2" r="3.6"/><circle cx="331.8" cy="362.2" r="3.6"/><circle cx="341.9" cy="362.2" r="3.6"/><circle cx="297.6" cy="362.2" r="3.6"/><circle cx="301.0" cy="365.2" r="3.6"/><circle cx="282.2" cy="365.2" r="3.6"/><circle cx="359.3" cy="365.2" r="3.6"/><circle cx="335.8" cy="368.1" r="3.6"/><circle cx="331.8" cy="371.1" r="3.6"/><circle cx="293.6" cy="374.1" r="3.6"/><circle cx="308.3" cy="374.1" r="3.6"/><circle cx="347.2" cy="374.1" r="3.6"/><circle cx="359.3" cy="374.1" r="3.6"/><circle cx="361.3" cy="377.1" r="3.6"/><circle cx="373.4" cy="377.1" r="3.6"/><circle cx="354.6" cy="380.1" r="3.6"/><circle cx="300.3" cy="389.1" r="3.6"/><circle cx="303.6" cy="386.1" r="3.6"/><circle cx="309.7" cy="392.0" r="3.6"/><circle cx="326.4" cy="392.0" r="3.6"/><circle cx="343.2" cy="395.0" r="3.6"/><circle cx="335.8" cy="398.0" r="3.6"/><circle cx="284.2" cy="395.0" r="3.6"/><circle cx="284.9" cy="395.0" r="3.6"/><circle cx="303.0" cy="398.0" r="3.6"/><circle cx="187.6" cy="296.5" r="3.6"/><circle cx="219.8" cy="362.2" r="3.6"/><circle cx="368.7" cy="287.5" r="3.6"/><circle cx="266.7" cy="299.4" r="3.6"/><circle cx="253.3" cy="344.2" r="3.6"/><circle cx="227.8" cy="293.5" r="3.6"/><circle cx="183.6" cy="350.2" r="3.6"/><circle cx="258.0" cy="374.1" r="3.6"/><circle cx="271.4" cy="302.4" r="3.6"/><circle cx="325.1" cy="305.4" r="3.6"/><circle cx="325.8" cy="257.6" r="3.6"/><circle cx="334.5" cy="323.3" r="3.6"/><circle cx="176.9" cy="260.6" r="3.6"/><circle cx="197.0" cy="332.3" r="3.6"/><circle cx="215.8" cy="347.2" r="3.6"/><circle cx="206.4" cy="332.3" r="3.6"/><circle cx="256.7" cy="335.3" r="3.6"/><circle cx="343.9" cy="344.2" r="3.6"/><circle cx="358.0" cy="383.1" r="3.6"/><circle cx="329.1" cy="335.3" r="3.6"/></g>
<path d="M173.5 308.2 L176.0 310.1 L178.6 311.8 L181.1 313.3 L183.7 314.7 L186.2 316.0 L188.7 317.2 L191.3 318.3 L193.8 319.3 L196.4 320.2 L198.9 321.0 L201.4 321.8 L204.0 322.6 L206.5 323.2 L209.1 323.9 L211.6 324.4 L214.1 325.0 L216.7 325.4 L219.2 325.8 L221.7 326.0 L224.3 326.1 L226.8 326.0 L229.4 325.8 L231.9 325.5 L234.4 325.0 L237.0 324.5 L239.5 324.0 L242.1 323.5 L244.6 323.1 L247.1 322.8 L249.7 322.5 L252.2 322.3 L254.7 322.2 L257.3 322.2 L259.8 322.3 L262.4 322.4 L264.9 322.6 L267.4 322.8 L270.0 323.1 L272.5 323.4 L275.1 323.8 L277.6 324.2 L280.1 324.6 L282.7 325.1 L285.2 325.6 L287.8 326.1 L290.3 326.6 L292.8 327.2 L295.4 327.7 L297.9 328.3 L300.4 329.0 L303.0 329.6 L305.5 330.3 L308.1 331.0 L310.6 331.6 L313.1 332.2 L315.7 332.8 L318.2 333.4 L320.8 333.9 L323.3 334.4 L325.8 334.9 L328.4 335.3 L330.9 335.6 L333.4 335.9 L336.0 336.1 L338.5 336.4 L341.1 336.5 L343.6 336.6 L346.1 336.7 L348.7 336.8 L351.2 336.8 L353.8 336.8 L356.3 336.7 L358.8 336.7 L361.4 336.5 L363.9 336.3 L366.4 336.1 L369.0 335.8 L371.5 335.4 L374.1 335.0" fill="none" stroke="#f00" stroke-width="4.3" stroke-linecap="round" stroke-linejoin="round"/>
<path d="M374.7 350.0 L377.3 347.3 L379.8 344.5 L382.4 341.8 L384.9 339.2 L387.4 336.7 L390.0 334.3 L392.5 332.2 L395.0 330.2 L397.6 328.5 L400.1 327.0 L402.7 325.6 L405.2 324.3 L407.7 323.2 L410.3 322.3 L412.8 321.4 L415.4 320.7 L417.9 320.1 L420.4 319.7 L423.0 319.3 L425.5 319.1 L428.0 318.9 L430.6 318.8 L433.1 319.0 L435.7 319.3 L438.2 319.8 L440.7 320.4 L443.3 320.9 L445.8 321.5 L448.4 322.2 L450.9 322.8 L453.4 323.5 L456.0 324.2 L458.5 325.0 L461.0 325.7 L463.6 326.5 L466.1 327.2 L468.7 327.8 L471.2 328.2 L473.7 328.4 L476.3 328.6 L478.8 328.7 L481.4 328.8 L483.9 328.9 L486.4 328.9 L489.0 328.9 L491.5 328.9 L494.1 328.9 L496.6 328.9 L499.1 328.9 L501.7 328.8 L504.2 328.8 L506.7 328.8 L509.3 328.8 L511.8 328.8 L514.4 328.8 L516.9 328.8 L519.4 328.8 L522.0 328.8 L524.5 328.8 L527.1 328.9 L529.6 328.9 L532.1 329.0 L534.7 329.1 L537.2 329.1 L539.7 329.2 L542.3 329.3 L544.8 329.4 L547.4 329.5 L549.9 329.6 L552.4 329.8 L555.0 329.9 L557.5 330.1 L560.1 330.2 L562.6 330.4 L565.1 330.6 L567.7 330.7 L570.2 330.9 L572.8 331.2 L575.3 331.4" fill="none" stroke="#f00" stroke-width="4.3" stroke-linecap="round" stroke-linejoin="round"/>
<g stroke="#000" stroke-width="2" fill="none" stroke-linecap="round" stroke-linejoin="round">
<rect x="157.44" y="157.44" width="433.92" height="606.72"/>
<path d="M172.84 764.16H575.29M172.84 764.16v19.2M239.92 764.16v19.2M306.99 764.16v19.2M374.06 764.16v19.2M441.14 764.16v19.2M508.21 764.16v19.2M575.29 764.16v19.2"/>
<path d="M157.44 741.52V293.47M157.44 741.52h-19.2M157.44 592.17h-19.2M157.44 442.82h-19.2M157.44 293.47h-19.2"/>
</g>
<text x="172.84" y="832.68" font-size="32" text-anchor="middle">0</text>
<text x="239.92" y="832.68" font-size="32" text-anchor="middle">100</text>
<text x="374.06" y="832.68" font-size="32" text-anchor="middle">300</text>
<text x="508.21" y="832.68" font-size="32" text-anchor="middle">500</text>
<text transform="translate(111.06 741.52) rotate(-90)" font-size="32" text-anchor="middle">7.5</text>
<text transform="translate(111.06 592.17) rotate(-90)" font-size="32" text-anchor="middle">8.0</text>
<text transform="translate(111.06 442.82) rotate(-90)" font-size="32" text-anchor="middle">8.5</text>
<text transform="translate(111.06 293.47) rotate(-90)" font-size="32" text-anchor="middle">9.0</text>
<text x="374.40" y="909.48" font-size="32" text-anchor="middle">T</text>
<text transform="translate(33.66 460.40) rotate(-90)" font-size="32" text-anchor="middle">P</text>
<text x="374.90" y="92.80" font-size="38.45" text-anchor="middle">Effect of Cost Shock on Price</text>
<g fill="#000" fill-opacity="0.5" shape-rendering="crispEdges"><path d="M884.4 354.2l4.85 8.40h-9.70z"/><path d="M855.6 407.8l4.85 8.40h-9.70z"/><path d="M1009.8 414.2l4.85 8.40h-9.70z"/><path d="M907.2 424.9l4.85 8.40h-9.70z"/><path d="M885.8 432.0l4.85 8.40h-9.70z"/><path d="M909.2 432.0l4.85 8.40h-9.70z"/><path d="M932.0 431.0l4.85 8.40h-9.70z"/><path d="M930.0 433.9l4.85 8.40h-9.70z"/><path d="M989.7 432.9l4.85 8.40h-9.70z"/><path d="M979.0 434.9l4.85 8.40h-9.70z"/><path d="M975.6 440.7l4.85 8.40h-9.70z"/><path d="M973.0 443.0l4.85 8.40h-9.70z"/><path d="M889.8 443.9l4.85 8.40h-9.70z"/><path d="M926.0 444.9l4.85 8.40h-9.70z"/><path d="M938.1 446.8l4.85 8.40h-9.70z"/><path d="M1046.1 444.9l4.85 8.40h-9.70z"/><path d="M899.8 450.7l4.85 8.40h-9.70z"/><path d="M875.7 460.1l4.85 8.40h-9.70z"/><path d="M975.6 459.1l4.85 8.40h-9.70z"/><path d="M934.0 462.0l4.85 8.40h-9.70z"/><path d="M1005.8 463.3l4.85 8.40h-9.70z"/><path d="M911.9 466.8l4.85 8.40h-9.70z"/><path d="M1015.9 469.7l4.85 8.40h-9.70z"/><path d="M850.2 472.0l4.85 8.40h-9.70z"/><path d="M943.4 473.0l4.85 8.40h-9.70z"/><path d="M1001.8 473.3l4.85 8.40h-9.70z"/><path d="M1003.1 473.3l4.85 8.40h-9.70z"/><path d="M1032.6 473.9l4.85 8.40h-9.70z"/><path d="M846.9 622.1l4.85 8.40h-9.70z"/><path d="M887.8 619.2l4.85 8.40h-9.70z"/><path d="M895.1 621.1l4.85 8.40h-9.70z"/><path d="M918.0 625.0l4.85 8.40h-9.70z"/><path d="M919.3 619.2l4.85 8.40h-9.70z"/><path d="M934.7 629.2l4.85 8.40h-9.70z"/><path d="M977.0 617.9l4.85 8.40h-9.70z"/><path d="M988.4 617.9l4.85 8.40h-9.70z"/><path d="M974.3 626.0l4.85 8.40h-9.70z"/><path d="M1006.5 619.2l4.85 8.40h-9.70z"/><path d="M1044.7 615.0l4.85 8.40h-9.70z"/><path d="M1040.0 619.8l4.85 8.40h-9.70z"/><path d="M1023.3 626.9l4.85 8.40h-9.70z"/><path d="M1025.3 631.5l4.85 8.40h-9.70z"/><path d="M1029.3 635.7l4.85 8.40h-9.70z"/><path d="M965.6 636.0l4.85 8.40h-9.70z"/><path d="M1004.5 635.7l4.85 8.40h-9.70z"/><path d="M852.9 639.2l4.85 8.40h-9.70z"/><path d="M854.2 639.2l4.85 8.40h-9.70z"/><path d="M995.8 647.0l4.85 8.40h-9.70z"/><path d="M1044.7 648.3l4.85 8.40h-9.70z"/><path d="M851.5 652.8l4.85 8.40h-9.70z"/><path d="M986.4 653.1l4.85 8.40h-9.70z"/><path d="M1023.9 653.1l4.85 8.40h-9.70z"/><path d="M949.5 659.9l4.85 8.40h-9.70z"/><path d="M899.8 661.8l4.85 8.40h-9.70z"/><path d="M862.3 673.8l4.85 8.40h-9.70z"/><path d="M856.2 691.2l4.85 8.40h-9.70z"/><path d="M991.1 717.0l4.85 8.40h-9.70z"/><path d="M1032.0 735.1l4.85 8.40h-9.70z"/><path d="M871.0 620.8l4.85 8.40h-9.70z"/><path d="M883.1 476.2l4.85 8.40h-9.70z"/><path d="M936.1 483.9l4.85 8.40h-9.70z"/><path d="M893.1 486.9l4.85 8.40h-9.70z"/><path d="M879.0 484.9l4.85 8.40h-9.70z"/><path d="M881.7 487.8l4.85 8.40h-9.70z"/><path d="M921.3 487.8l4.85 8.40h-9.70z"/><path d="M925.3 486.2l4.85 8.40h-9.70z"/><path d="M848.9 489.1l4.85 8.40h-9.70z"/><path d="M851.5 492.0l4.85 8.40h-9.70z"/><path d="M860.3 487.2l4.85 8.40h-9.70z"/><path d="M863.0 492.7l4.85 8.40h-9.70z"/><path d="M868.3 492.0l4.85 8.40h-9.70z"/><path d="M901.9 493.3l4.85 8.40h-9.70z"/><path d="M879.0 496.2l4.85 8.40h-9.70z"/><path d="M937.4 498.1l4.85 8.40h-9.70z"/><path d="M904.5 502.0l4.85 8.40h-9.70z"/><path d="M944.1 505.3l4.85 8.40h-9.70z"/><path d="M910.6 507.8l4.85 8.40h-9.70z"/><path d="M916.6 507.8l4.85 8.40h-9.70z"/><path d="M854.2 509.1l4.85 8.40h-9.70z"/><path d="M872.3 516.9l4.85 8.40h-9.70z"/><path d="M879.0 517.8l4.85 8.40h-9.70z"/><path d="M885.8 517.2l4.85 8.40h-9.70z"/><path d="M909.9 518.2l4.85 8.40h-9.70z"/><path d="M930.0 516.2l4.85 8.40h-9.70z"/><path d="M946.1 516.2l4.85 8.40h-9.70z"/><path d="M850.2 519.1l4.85 8.40h-9.70z"/><path d="M857.6 522.0l4.85 8.40h-9.70z"/><path d="M935.4 522.7l4.85 8.40h-9.70z"/><path d="M877.7 525.9l4.85 8.40h-9.70z"/><path d="M891.1 524.3l4.85 8.40h-9.70z"/><path d="M896.5 528.5l4.85 8.40h-9.70z"/><path d="M901.2 525.3l4.85 8.40h-9.70z"/><path d="M940.8 526.9l4.85 8.40h-9.70z"/><path d="M932.7 529.1l4.85 8.40h-9.70z"/><path d="M856.9 529.8l4.85 8.40h-9.70z"/><path d="M869.0 534.3l4.85 8.40h-9.70z"/><path d="M870.3 534.3l4.85 8.40h-9.70z"/><path d="M874.4 532.0l4.85 8.40h-9.70z"/><path d="M896.5 533.0l4.85 8.40h-9.70z"/><path d="M903.9 533.7l4.85 8.40h-9.70z"/><path d="M915.3 534.3l4.85 8.40h-9.70z"/><path d="M922.0 534.3l4.85 8.40h-9.70z"/><path d="M946.1 532.0l4.85 8.40h-9.70z"/><path d="M845.5 547.2l4.85 8.40h-9.70z"/><path d="M858.9 548.5l4.85 8.40h-9.70z"/><path d="M1040.0 475.2l4.85 8.40h-9.70z"/><path d="M968.9 477.8l4.85 8.40h-9.70z"/><path d="M989.1 478.5l4.85 8.40h-9.70z"/><path d="M1010.5 480.7l4.85 8.40h-9.70z"/><path d="M1017.9 483.6l4.85 8.40h-9.70z"/><path d="M1039.4 485.6l4.85 8.40h-9.70z"/><path d="M998.4 487.8l4.85 8.40h-9.70z"/><path d="M985.7 489.1l4.85 8.40h-9.70z"/><path d="M1019.2 490.7l4.85 8.40h-9.70z"/><path d="M972.3 492.0l4.85 8.40h-9.70z"/><path d="M950.8 496.2l4.85 8.40h-9.70z"/><path d="M1027.3 495.6l4.85 8.40h-9.70z"/><path d="M1042.0 502.7l4.85 8.40h-9.70z"/><path d="M1021.9 501.1l4.85 8.40h-9.70z"/><path d="M1018.6 504.3l4.85 8.40h-9.70z"/><path d="M955.5 504.3l4.85 8.40h-9.70z"/><path d="M964.2 504.3l4.85 8.40h-9.70z"/><path d="M970.3 507.2l4.85 8.40h-9.70z"/><path d="M978.3 509.8l4.85 8.40h-9.70z"/><path d="M1008.5 509.8l4.85 8.40h-9.70z"/><path d="M984.4 514.9l4.85 8.40h-9.70z"/><path d="M990.4 516.9l4.85 8.40h-9.70z"/><path d="M956.2 516.9l4.85 8.40h-9.70z"/><path d="M970.9 517.8l4.85 8.40h-9.70z"/><path d="M1030.0 514.0l4.85 8.40h-9.70z"/><path d="M1035.3 520.7l4.85 8.40h-9.70z"/><path d="M1028.0 523.7l4.85 8.40h-9.70z"/><path d="M1011.2 525.6l4.85 8.40h-9.70z"/><path d="M967.6 522.0l4.85 8.40h-9.70z"/><path d="M959.5 525.3l4.85 8.40h-9.70z"/><path d="M962.9 531.1l4.85 8.40h-9.70z"/><path d="M966.2 531.1l4.85 8.40h-9.70z"/><path d="M948.8 530.1l4.85 8.40h-9.70z"/><path d="M954.8 530.8l4.85 8.40h-9.70z"/><path d="M992.4 532.0l4.85 8.40h-9.70z"/><path d="M997.1 533.7l4.85 8.40h-9.70z"/><path d="M976.3 534.3l4.85 8.40h-9.70z"/><path d="M979.7 536.6l4.85 8.40h-9.70z"/><path d="M1030.6 532.7l4.85 8.40h-9.70z"/><path d="M1034.7 536.6l4.85 8.40h-9.70z"/><path d="M1035.3 541.1l4.85 8.40h-9.70z"/><path d="M1032.6 545.0l4.85 8.40h-9.70z"/><path d="M1038.7 544.0l4.85 8.40h-9.70z"/><path d="M1042.0 546.9l4.85 8.40h-9.70z"/><path d="M1020.6 542.1l4.85 8.40h-9.70z"/><path d="M1019.2 545.3l4.85 8.40h-9.70z"/><path d="M1022.6 545.9l4.85 8.40h-9.70z"/><path d="M979.7 544.3l4.85 8.40h-9.70z"/><path d="M1001.8 548.5l4.85 8.40h-9.70z"/><path d="M889.1 552.1l4.85 8.40h-9.70z"/><path d="M899.2 555.0l4.85 8.40h-9.70z"/><path d="M906.5 550.1l4.85 8.40h-9.70z"/><path d="M895.1 560.1l4.85 8.40h-9.70z"/><path d="M907.2 557.2l4.85 8.40h-9.70z"/><path d="M927.3 557.5l4.85 8.40h-9.70z"/><path d="M931.4 560.4l4.85 8.40h-9.70z"/><path d="M932.7 553.3l4.85 8.40h-9.70z"/><path d="M858.3 566.3l4.85 8.40h-9.70z"/><path d="M871.7 570.5l4.85 8.40h-9.70z"/><path d="M872.3 570.5l4.85 8.40h-9.70z"/><path d="M880.4 567.2l4.85 8.40h-9.70z"/><path d="M885.1 567.6l4.85 8.40h-9.70z"/><path d="M920.0 567.9l4.85 8.40h-9.70z"/><path d="M885.8 573.7l4.85 8.40h-9.70z"/><path d="M889.8 574.0l4.85 8.40h-9.70z"/><path d="M892.5 573.7l4.85 8.40h-9.70z"/><path d="M898.5 576.6l4.85 8.40h-9.70z"/><path d="M905.9 577.9l4.85 8.40h-9.70z"/><path d="M859.6 577.6l4.85 8.40h-9.70z"/><path d="M865.0 577.9l4.85 8.40h-9.70z"/><path d="M922.0 578.8l4.85 8.40h-9.70z"/><path d="M928.7 573.7l4.85 8.40h-9.70z"/><path d="M912.6 580.8l4.85 8.40h-9.70z"/><path d="M936.7 581.1l4.85 8.40h-9.70z"/><path d="M946.1 581.1l4.85 8.40h-9.70z"/><path d="M946.8 581.1l4.85 8.40h-9.70z"/><path d="M944.1 576.9l4.85 8.40h-9.70z"/><path d="M883.1 580.5l4.85 8.40h-9.70z"/><path d="M884.4 583.7l4.85 8.40h-9.70z"/><path d="M894.5 581.1l4.85 8.40h-9.70z"/><path d="M846.9 583.7l4.85 8.40h-9.70z"/><path d="M913.9 586.3l4.85 8.40h-9.70z"/><path d="M915.3 586.3l4.85 8.40h-9.70z"/><path d="M929.4 589.2l4.85 8.40h-9.70z"/><path d="M846.2 595.0l4.85 8.40h-9.70z"/><path d="M853.6 593.1l4.85 8.40h-9.70z"/><path d="M866.3 596.9l4.85 8.40h-9.70z"/><path d="M867.0 596.9l4.85 8.40h-9.70z"/><path d="M863.0 587.9l4.85 8.40h-9.70z"/><path d="M876.4 596.0l4.85 8.40h-9.70z"/><path d="M903.2 598.9l4.85 8.40h-9.70z"/><path d="M938.7 597.6l4.85 8.40h-9.70z"/><path d="M939.4 597.6l4.85 8.40h-9.70z"/><path d="M926.7 603.1l4.85 8.40h-9.70z"/><path d="M941.4 603.1l4.85 8.40h-9.70z"/><path d="M848.2 605.0l4.85 8.40h-9.70z"/><path d="M918.6 606.9l4.85 8.40h-9.70z"/><path d="M871.0 608.9l4.85 8.40h-9.70z"/><path d="M868.3 613.7l4.85 8.40h-9.70z"/><path d="M948.8 612.7l4.85 8.40h-9.70z"/><path d="M961.6 554.0l4.85 8.40h-9.70z"/><path d="M957.5 560.8l4.85 8.40h-9.70z"/><path d="M970.9 563.0l4.85 8.40h-9.70z"/><path d="M995.1 559.2l4.85 8.40h-9.70z"/><path d="M962.9 565.3l4.85 8.40h-9.70z"/><path d="M962.9 573.7l4.85 8.40h-9.70z"/><path d="M957.5 569.5l4.85 8.40h-9.70z"/><path d="M1025.9 563.7l4.85 8.40h-9.70z"/><path d="M1025.9 570.8l4.85 8.40h-9.70z"/><path d="M1005.8 569.5l4.85 8.40h-9.70z"/><path d="M1036.7 571.1l4.85 8.40h-9.70z"/><path d="M1038.0 564.6l4.85 8.40h-9.70z"/><path d="M1041.4 569.5l4.85 8.40h-9.70z"/><path d="M983.7 577.6l4.85 8.40h-9.70z"/><path d="M993.1 578.8l4.85 8.40h-9.70z"/><path d="M993.7 578.8l4.85 8.40h-9.70z"/><path d="M996.4 579.5l4.85 8.40h-9.70z"/><path d="M966.2 583.0l4.85 8.40h-9.70z"/><path d="M957.5 583.7l4.85 8.40h-9.70z"/><path d="M980.3 583.0l4.85 8.40h-9.70z"/><path d="M1012.5 584.7l4.85 8.40h-9.70z"/><path d="M1038.0 584.7l4.85 8.40h-9.70z"/><path d="M994.4 587.9l4.85 8.40h-9.70z"/><path d="M1028.6 587.9l4.85 8.40h-9.70z"/><path d="M985.0 589.8l4.85 8.40h-9.70z"/><path d="M1009.2 589.8l4.85 8.40h-9.70z"/><path d="M1001.8 595.3l4.85 8.40h-9.70z"/><path d="M982.3 597.9l4.85 8.40h-9.70z"/><path d="M987.0 603.1l4.85 8.40h-9.70z"/><path d="M993.7 603.7l4.85 8.40h-9.70z"/><path d="M1000.5 602.1l4.85 8.40h-9.70z"/><path d="M966.2 606.3l4.85 8.40h-9.70z"/><path d="M1011.9 608.9l4.85 8.40h-9.70z"/><path d="M951.5 612.7l4.85 8.40h-9.70z"/><path d="M1020.6 613.7l4.85 8.40h-9.70z"/><path d="M977.6 612.7l4.85 8.40h-9.70z"/><path d="M865.6 562.4l4.85 8.40h-9.70z"/><path d="M966.9 554.0l4.85 8.40h-9.70z"/><path d="M849.5 559.8l4.85 8.40h-9.70z"/><path d="M1044.1 573.4l4.85 8.40h-9.70z"/><path d="M1007.2 523.7l4.85 8.40h-9.70z"/><path d="M964.9 583.4l4.85 8.40h-9.70z"/><path d="M950.1 577.2l4.85 8.40h-9.70z"/><path d="M999.8 508.8l4.85 8.40h-9.70z"/><path d="M930.7 546.9l4.85 8.40h-9.70z"/><path d="M852.2 540.1l4.85 8.40h-9.70z"/><path d="M1037.3 546.2l4.85 8.40h-9.70z"/><path d="M948.1 603.7l4.85 8.40h-9.70z"/><path d="M968.3 572.1l4.85 8.40h-9.70z"/><path d="M883.7 534.0l4.85 8.40h-9.70z"/><path d="M917.3 559.5l4.85 8.40h-9.70z"/><path d="M875.0 518.5l4.85 8.40h-9.70z"/><path d="M952.2 551.1l4.85 8.40h-9.70z"/><path d="M999.1 582.1l4.85 8.40h-9.70z"/><path d="M1003.8 537.5l4.85 8.40h-9.70z"/><path d="M1013.2 522.4l4.85 8.40h-9.70z"/><path d="M1045.4 586.3l4.85 8.40h-9.70z"/><path d="M888.4 609.2l4.85 8.40h-9.70z"/><path d="M873.7 517.2l4.85 8.40h-9.70z"/><path d="M1017.2 588.2l4.85 8.40h-9.70z"/><path d="M920.6 527.2l4.85 8.40h-9.70z"/><path d="M877.0 518.5l4.85 8.40h-9.70z"/><path d="M895.8 548.8l4.85 8.40h-9.70z"/><path d="M847.5 527.8l4.85 8.40h-9.70z"/><path d="M952.8 550.1l4.85 8.40h-9.70z"/><path d="M891.8 551.4l4.85 8.40h-9.70z"/><path d="M975.0 535.3l4.85 8.40h-9.70z"/><path d="M867.6 499.4l4.85 8.40h-9.70z"/><path d="M1015.2 501.4l4.85 8.40h-9.70z"/><path d="M971.6 553.3l4.85 8.40h-9.70z"/><path d="M911.2 552.7l4.85 8.40h-9.70z"/><path d="M860.9 581.1l4.85 8.40h-9.70z"/><path d="M864.3 503.6l4.85 8.40h-9.70z"/><path d="M863.6 525.6l4.85 8.40h-9.70z"/><path d="M981.0 530.8l4.85 8.40h-9.70z"/><path d="M1026.6 483.3l4.85 8.40h-9.70z"/><path d="M983.0 543.7l4.85 8.40h-9.70z"/><path d="M991.7 612.4l4.85 8.40h-9.70z"/><path d="M1042.7 575.0l4.85 8.40h-9.70z"/><path d="M944.8 499.1l4.85 8.40h-9.70z"/><path d="M1014.5 592.4l4.85 8.40h-9.70z"/><path d="M940.1 486.2l4.85 8.40h-9.70z"/><path d="M915.9 553.3l4.85 8.40h-9.70z"/><path d="M942.8 513.0l4.85 8.40h-9.70z"/><path d="M914.6 581.4l4.85 8.40h-9.70z"/><path d="M956.9 506.2l4.85 8.40h-9.70z"/><path d="M922.6 551.4l4.85 8.40h-9.70z"/><path d="M886.4 540.8l4.85 8.40h-9.70z"/><path d="M878.4 591.1l4.85 8.40h-9.70z"/><path d="M881.1 561.1l4.85 8.40h-9.70z"/><path d="M933.4 499.4l4.85 8.40h-9.70z"/><path d="M924.0 576.6l4.85 8.40h-9.70z"/><path d="M928.0 496.2l4.85 8.40h-9.70z"/><path d="M997.8 523.7l4.85 8.40h-9.70z"/><path d="M960.2 534.9l4.85 8.40h-9.70z"/></g>
<path d="M845.5 571.8 L848.0 569.6 L850.6 567.5 L853.1 565.5 L855.7 563.5 L858.2 561.7 L860.7 559.9 L863.3 558.3 L865.8 556.8 L868.4 555.4 L870.9 554.1 L873.4 552.8 L876.0 551.6 L878.5 550.5 L881.1 549.4 L883.6 548.5 L886.1 547.7 L888.7 547.0 L891.2 546.4 L893.7 545.9 L896.3 545.4 L898.8 545.0 L901.4 544.7 L903.9 544.4 L906.4 544.2 L909.0 544.0 L911.5 543.9 L914.1 543.8 L916.6 543.7 L919.1 543.7 L921.7 543.8 L924.2 543.9 L926.7 544.0 L929.3 544.2 L931.8 544.4 L934.4 544.7 L936.9 545.0 L939.4 545.4 L942.0 545.8 L944.5 546.2 L947.1 546.7 L949.6 547.2 L952.1 547.7 L954.7 548.3 L957.2 548.9 L959.8 549.5 L962.3 550.1 L964.8 550.8 L967.4 551.4 L969.9 552.1 L972.4 552.7 L975.0 553.4 L977.5 554.0 L980.1 554.6 L982.6 555.2 L985.1 555.8 L987.7 556.3 L990.2 556.8 L992.8 557.3 L995.3 557.7 L997.8 558.1 L1000.4 558.4 L1002.9 558.7 L1005.4 559.0 L1008.0 559.3 L1010.5 559.6 L1013.1 559.8 L1015.6 560.0 L1018.1 560.2 L1020.7 560.3 L1023.2 560.4 L1025.8 560.4 L1028.3 560.5 L1030.8 560.4 L1033.4 560.4 L1035.9 560.3 L1038.4 560.2 L1041.0 560.1 L1043.5 560.0 L1046.1 559.8" fill="none" stroke="#000" stroke-width="4.3" stroke-linecap="round" stroke-linejoin="round"/>
<g fill="#00f" fill-opacity="0.5" shape-rendering="crispEdges"><path d="M1074.2 174.1l4.85 8.40h-9.70z"/><path d="M1057.5 187.0l4.85 8.40h-9.70z"/><path d="M1176.9 180.2l4.85 8.40h-9.70z"/><path d="M1240.6 201.2l4.85 8.40h-9.70z"/><path d="M1206.4 201.8l4.85 8.40h-9.70z"/><path d="M1210.4 205.0l4.85 8.40h-9.70z"/><path d="M1060.2 207.0l4.85 8.40h-9.70z"/><path d="M1101.7 206.0l4.85 8.40h-9.70z"/><path d="M1114.5 210.2l4.85 8.40h-9.70z"/><path d="M1078.9 211.2l4.85 8.40h-9.70z"/><path d="M1201.0 211.2l4.85 8.40h-9.70z"/><path d="M1089.0 215.1l4.85 8.40h-9.70z"/><path d="M1246.6 218.9l4.85 8.40h-9.70z"/><path d="M1183.6 226.0l4.85 8.40h-9.70z"/><path d="M1117.8 227.0l4.85 8.40h-9.70z"/><path d="M1138.0 228.3l4.85 8.40h-9.70z"/><path d="M1172.2 229.9l4.85 8.40h-9.70z"/><path d="M1169.5 232.8l4.85 8.40h-9.70z"/><path d="M1173.5 236.0l4.85 8.40h-9.70z"/><path d="M1175.5 238.9l4.85 8.40h-9.70z"/><path d="M1193.0 232.2l4.85 8.40h-9.70z"/><path d="M1190.3 234.7l4.85 8.40h-9.70z"/><path d="M1115.2 236.0l4.85 8.40h-9.70z"/><path d="M1120.5 237.0l4.85 8.40h-9.70z"/><path d="M1145.3 238.9l4.85 8.40h-9.70z"/><path d="M1158.1 242.2l4.85 8.40h-9.70z"/><path d="M1170.8 244.1l4.85 8.40h-9.70z"/><path d="M1199.7 247.0l4.85 8.40h-9.70z"/><path d="M1214.4 251.2l4.85 8.40h-9.70z"/><path d="M1141.3 254.1l4.85 8.40h-9.70z"/><path d="M1186.9 254.1l4.85 8.40h-9.70z"/><path d="M1180.2 255.1l4.85 8.40h-9.70z"/><path d="M1204.4 258.0l4.85 8.40h-9.70z"/><path d="M1062.2 257.0l4.85 8.40h-9.70z"/><path d="M1058.8 259.0l4.85 8.40h-9.70z"/><path d="M1074.9 259.9l4.85 8.40h-9.70z"/><path d="M1165.5 262.2l4.85 8.40h-9.70z"/><path d="M1066.2 262.2l4.85 8.40h-9.70z"/><path d="M1053.4 264.1l4.85 8.40h-9.70z"/><path d="M1227.2 263.2l4.85 8.40h-9.70z"/><path d="M1096.4 396.8l4.85 8.40h-9.70z"/><path d="M1105.8 399.0l4.85 8.40h-9.70z"/><path d="M1107.1 399.0l4.85 8.40h-9.70z"/><path d="M1181.6 398.1l4.85 8.40h-9.70z"/><path d="M1194.3 400.7l4.85 8.40h-9.70z"/><path d="M1195.6 400.7l4.85 8.40h-9.70z"/><path d="M1223.1 401.3l4.85 8.40h-9.70z"/><path d="M1239.2 403.2l4.85 8.40h-9.70z"/><path d="M1243.9 406.8l4.85 8.40h-9.70z"/><path d="M1106.4 406.2l4.85 8.40h-9.70z"/><path d="M1095.0 412.0l4.85 8.40h-9.70z"/><path d="M1111.1 411.0l4.85 8.40h-9.70z"/><path d="M1115.2 410.0l4.85 8.40h-9.70z"/><path d="M1119.2 412.0l4.85 8.40h-9.70z"/><path d="M1140.6 409.1l4.85 8.40h-9.70z"/><path d="M1159.4 409.1l4.85 8.40h-9.70z"/><path d="M1175.5 412.0l4.85 8.40h-9.70z"/><path d="M1150.7 414.9l4.85 8.40h-9.70z"/><path d="M1155.4 417.8l4.85 8.40h-9.70z"/><path d="M1229.2 414.9l4.85 8.40h-9.70z"/><path d="M1225.2 421.0l4.85 8.40h-9.70z"/><path d="M1225.8 421.0l4.85 8.40h-9.70z"/><path d="M1079.6 420.0l4.85 8.40h-9.70z"/><path d="M1068.9 424.9l4.85 8.40h-9.70z"/><path d="M1078.3 429.1l4.85 8.40h-9.70z"/><path d="M1088.3 429.1l4.85 8.40h-9.70z"/><path d="M1202.3 427.1l4.85 8.40h-9.70z"/><path d="M1133.9 432.9l4.85 8.40h-9.70z"/><path d="M1196.3 433.9l4.85 8.40h-9.70z"/><path d="M1051.4 434.9l4.85 8.40h-9.70z"/><path d="M1242.6 446.8l4.85 8.40h-9.70z"/><path d="M1093.0 446.8l4.85 8.40h-9.70z"/><path d="M1109.1 444.9l4.85 8.40h-9.70z"/><path d="M1117.2 446.8l4.85 8.40h-9.70z"/><path d="M1184.2 453.9l4.85 8.40h-9.70z"/><path d="M1178.2 463.0l4.85 8.40h-9.70z"/><path d="M1072.2 272.8l4.85 8.40h-9.70z"/><path d="M1074.9 272.8l4.85 8.40h-9.70z"/><path d="M1073.6 270.3l4.85 8.40h-9.70z"/><path d="M1046.7 277.0l4.85 8.40h-9.70z"/><path d="M1052.8 278.0l4.85 8.40h-9.70z"/><path d="M1056.8 277.7l4.85 8.40h-9.70z"/><path d="M1205.0 266.1l4.85 8.40h-9.70z"/><path d="M1205.0 271.9l4.85 8.40h-9.70z"/><path d="M1238.6 266.7l4.85 8.40h-9.70z"/><path d="M1233.2 269.9l4.85 8.40h-9.70z"/><path d="M1150.7 270.3l4.85 8.40h-9.70z"/><path d="M1154.1 270.3l4.85 8.40h-9.70z"/><path d="M1157.4 271.2l4.85 8.40h-9.70z"/><path d="M1125.9 274.8l4.85 8.40h-9.70z"/><path d="M1132.6 274.8l4.85 8.40h-9.70z"/><path d="M1144.7 276.1l4.85 8.40h-9.70z"/><path d="M1168.1 276.1l4.85 8.40h-9.70z"/><path d="M1101.1 277.0l4.85 8.40h-9.70z"/><path d="M1104.4 278.6l4.85 8.40h-9.70z"/><path d="M1096.4 281.9l4.85 8.40h-9.70z"/><path d="M1103.1 283.5l4.85 8.40h-9.70z"/><path d="M1128.6 279.9l4.85 8.40h-9.70z"/><path d="M1161.4 279.9l4.85 8.40h-9.70z"/><path d="M1148.0 283.2l4.85 8.40h-9.70z"/><path d="M1116.5 284.8l4.85 8.40h-9.70z"/><path d="M1139.3 284.8l4.85 8.40h-9.70z"/><path d="M1162.8 284.8l4.85 8.40h-9.70z"/><path d="M1067.5 285.1l4.85 8.40h-9.70z"/><path d="M1068.9 285.1l4.85 8.40h-9.70z"/><path d="M1233.9 287.0l4.85 8.40h-9.70z"/><path d="M1154.1 287.7l4.85 8.40h-9.70z"/><path d="M1080.9 289.0l4.85 8.40h-9.70z"/><path d="M1087.7 289.3l4.85 8.40h-9.70z"/><path d="M1125.9 289.0l4.85 8.40h-9.70z"/><path d="M1178.9 289.0l4.85 8.40h-9.70z"/><path d="M1211.7 289.0l4.85 8.40h-9.70z"/><path d="M1217.8 289.0l4.85 8.40h-9.70z"/><path d="M1120.5 291.9l4.85 8.40h-9.70z"/><path d="M1129.2 292.8l4.85 8.40h-9.70z"/><path d="M1133.3 294.8l4.85 8.40h-9.70z"/><path d="M1160.1 291.9l4.85 8.40h-9.70z"/><path d="M1245.9 292.2l4.85 8.40h-9.70z"/><path d="M1186.3 294.5l4.85 8.40h-9.70z"/><path d="M1187.6 294.5l4.85 8.40h-9.70z"/><path d="M1060.8 294.8l4.85 8.40h-9.70z"/><path d="M1221.1 294.8l4.85 8.40h-9.70z"/><path d="M1084.3 296.7l4.85 8.40h-9.70z"/><path d="M1085.6 296.7l4.85 8.40h-9.70z"/><path d="M1202.3 297.0l4.85 8.40h-9.70z"/><path d="M1215.8 297.4l4.85 8.40h-9.70z"/><path d="M1152.7 297.7l4.85 8.40h-9.70z"/><path d="M1156.1 298.3l4.85 8.40h-9.70z"/><path d="M1208.4 300.0l4.85 8.40h-9.70z"/><path d="M1050.1 299.0l4.85 8.40h-9.70z"/><path d="M1229.8 300.6l4.85 8.40h-9.70z"/><path d="M1127.2 301.9l4.85 8.40h-9.70z"/><path d="M1099.7 303.2l4.85 8.40h-9.70z"/><path d="M1236.6 303.2l4.85 8.40h-9.70z"/><path d="M1054.8 305.1l4.85 8.40h-9.70z"/><path d="M1135.9 305.1l4.85 8.40h-9.70z"/><path d="M1157.4 304.8l4.85 8.40h-9.70z"/><path d="M1212.4 304.8l4.85 8.40h-9.70z"/><path d="M1092.3 305.4l4.85 8.40h-9.70z"/><path d="M1223.8 306.1l4.85 8.40h-9.70z"/><path d="M1131.9 308.7l4.85 8.40h-9.70z"/><path d="M1197.7 308.3l4.85 8.40h-9.70z"/><path d="M1201.0 308.7l4.85 8.40h-9.70z"/><path d="M1177.5 308.7l4.85 8.40h-9.70z"/><path d="M1174.2 310.9l4.85 8.40h-9.70z"/><path d="M1142.0 310.9l4.85 8.40h-9.70z"/><path d="M1061.5 311.9l4.85 8.40h-9.70z"/><path d="M1052.8 311.9l4.85 8.40h-9.70z"/><path d="M1094.4 310.9l4.85 8.40h-9.70z"/><path d="M1098.4 314.5l4.85 8.40h-9.70z"/><path d="M1206.4 311.9l4.85 8.40h-9.70z"/><path d="M1064.2 313.5l4.85 8.40h-9.70z"/><path d="M1072.2 313.8l4.85 8.40h-9.70z"/><path d="M1077.6 313.8l4.85 8.40h-9.70z"/><path d="M1087.0 314.5l4.85 8.40h-9.70z"/><path d="M1123.2 313.8l4.85 8.40h-9.70z"/><path d="M1164.1 314.5l4.85 8.40h-9.70z"/><path d="M1169.5 313.5l4.85 8.40h-9.70z"/><path d="M1183.6 313.5l4.85 8.40h-9.70z"/><path d="M1187.6 316.1l4.85 8.40h-9.70z"/><path d="M1204.4 315.1l4.85 8.40h-9.70z"/><path d="M1237.2 315.1l4.85 8.40h-9.70z"/><path d="M1068.2 317.7l4.85 8.40h-9.70z"/><path d="M1149.4 318.7l4.85 8.40h-9.70z"/><path d="M1218.4 317.4l4.85 8.40h-9.70z"/><path d="M1136.6 319.3l4.85 8.40h-9.70z"/><path d="M1193.6 318.7l4.85 8.40h-9.70z"/><path d="M1109.8 320.9l4.85 8.40h-9.70z"/><path d="M1114.5 321.9l4.85 8.40h-9.70z"/><path d="M1129.9 321.6l4.85 8.40h-9.70z"/><path d="M1180.2 320.3l4.85 8.40h-9.70z"/><path d="M1229.8 322.2l4.85 8.40h-9.70z"/><path d="M1081.6 323.5l4.85 8.40h-9.70z"/><path d="M1083.0 323.5l4.85 8.40h-9.70z"/><path d="M1064.2 324.5l4.85 8.40h-9.70z"/><path d="M1222.5 326.7l4.85 8.40h-9.70z"/><path d="M1093.0 327.7l4.85 8.40h-9.70z"/><path d="M1190.3 326.7l4.85 8.40h-9.70z"/><path d="M1108.4 328.7l4.85 8.40h-9.70z"/><path d="M1123.9 329.3l4.85 8.40h-9.70z"/><path d="M1241.9 327.7l4.85 8.40h-9.70z"/><path d="M1232.5 328.7l4.85 8.40h-9.70z"/><path d="M1197.7 330.3l4.85 8.40h-9.70z"/><path d="M1066.9 330.9l4.85 8.40h-9.70z"/><path d="M1208.4 328.7l4.85 8.40h-9.70z"/><path d="M1137.3 328.7l4.85 8.40h-9.70z"/><path d="M1085.0 336.1l4.85 8.40h-9.70z"/><path d="M1111.8 332.9l4.85 8.40h-9.70z"/><path d="M1104.4 336.7l4.85 8.40h-9.70z"/><path d="M1143.3 336.7l4.85 8.40h-9.70z"/><path d="M1135.3 337.7l4.85 8.40h-9.70z"/><path d="M1130.6 340.6l4.85 8.40h-9.70z"/><path d="M1191.6 339.0l4.85 8.40h-9.70z"/><path d="M1160.8 336.1l4.85 8.40h-9.70z"/><path d="M1164.8 337.4l4.85 8.40h-9.70z"/><path d="M1168.1 338.7l4.85 8.40h-9.70z"/><path d="M1154.7 343.2l4.85 8.40h-9.70z"/><path d="M1160.1 341.9l4.85 8.40h-9.70z"/><path d="M1171.5 346.1l4.85 8.40h-9.70z"/><path d="M1223.1 339.3l4.85 8.40h-9.70z"/><path d="M1231.9 342.2l4.85 8.40h-9.70z"/><path d="M1209.1 341.9l4.85 8.40h-9.70z"/><path d="M1214.4 346.1l4.85 8.40h-9.70z"/><path d="M1215.8 346.1l4.85 8.40h-9.70z"/><path d="M1217.8 343.5l4.85 8.40h-9.70z"/><path d="M1048.1 340.9l4.85 8.40h-9.70z"/><path d="M1049.4 346.4l4.85 8.40h-9.70z"/><path d="M1072.9 340.3l4.85 8.40h-9.70z"/><path d="M1071.6 346.1l4.85 8.40h-9.70z"/><path d="M1058.8 349.3l4.85 8.40h-9.70z"/><path d="M1083.6 348.7l4.85 8.40h-9.70z"/><path d="M1091.7 345.5l4.85 8.40h-9.70z"/><path d="M1098.4 350.3l4.85 8.40h-9.70z"/><path d="M1104.4 353.2l4.85 8.40h-9.70z"/><path d="M1099.7 355.5l4.85 8.40h-9.70z"/><path d="M1121.2 349.3l4.85 8.40h-9.70z"/><path d="M1125.2 351.6l4.85 8.40h-9.70z"/><path d="M1154.1 353.5l4.85 8.40h-9.70z"/><path d="M1195.0 353.2l4.85 8.40h-9.70z"/><path d="M1191.6 355.5l4.85 8.40h-9.70z"/><path d="M1216.4 356.4l4.85 8.40h-9.70z"/><path d="M1244.6 351.9l4.85 8.40h-9.70z"/><path d="M1243.3 358.7l4.85 8.40h-9.70z"/><path d="M1247.3 359.0l4.85 8.40h-9.70z"/><path d="M1054.1 359.0l4.85 8.40h-9.70z"/><path d="M1117.8 360.3l4.85 8.40h-9.70z"/><path d="M1121.9 362.9l4.85 8.40h-9.70z"/><path d="M1070.2 360.6l4.85 8.40h-9.70z"/><path d="M1062.8 362.9l4.85 8.40h-9.70z"/><path d="M1077.6 361.0l4.85 8.40h-9.70z"/><path d="M1080.9 361.9l4.85 8.40h-9.70z"/><path d="M1076.9 366.4l4.85 8.40h-9.70z"/><path d="M1148.7 361.0l4.85 8.40h-9.70z"/><path d="M1178.9 360.6l4.85 8.40h-9.70z"/><path d="M1183.6 364.5l4.85 8.40h-9.70z"/><path d="M1187.6 363.5l4.85 8.40h-9.70z"/><path d="M1188.9 366.8l4.85 8.40h-9.70z"/><path d="M1142.7 365.2l4.85 8.40h-9.70z"/><path d="M1245.3 364.8l4.85 8.40h-9.70z"/><path d="M1056.8 367.7l4.85 8.40h-9.70z"/><path d="M1112.5 368.7l4.85 8.40h-9.70z"/><path d="M1136.6 370.6l4.85 8.40h-9.70z"/><path d="M1140.0 372.6l4.85 8.40h-9.70z"/><path d="M1144.0 371.9l4.85 8.40h-9.70z"/><path d="M1174.2 370.0l4.85 8.40h-9.70z"/><path d="M1224.5 369.0l4.85 8.40h-9.70z"/><path d="M1237.2 369.0l4.85 8.40h-9.70z"/><path d="M1221.1 371.9l4.85 8.40h-9.70z"/><path d="M1113.1 374.8l4.85 8.40h-9.70z"/><path d="M1162.8 374.5l4.85 8.40h-9.70z"/><path d="M1212.4 374.8l4.85 8.40h-9.70z"/><path d="M1229.2 373.5l4.85 8.40h-9.70z"/><path d="M1233.2 374.5l4.85 8.40h-9.70z"/><path d="M1236.6 373.5l4.85 8.40h-9.70z"/><path d="M1059.5 376.8l4.85 8.40h-9.70z"/><path d="M1126.6 377.1l4.85 8.40h-9.70z"/><path d="M1131.2 377.7l4.85 8.40h-9.70z"/><path d="M1184.9 377.7l4.85 8.40h-9.70z"/><path d="M1107.8 381.9l4.85 8.40h-9.70z"/><path d="M1166.8 382.6l4.85 8.40h-9.70z"/><path d="M1047.4 385.2l4.85 8.40h-9.70z"/><path d="M1065.5 385.5l4.85 8.40h-9.70z"/><path d="M1089.7 387.8l4.85 8.40h-9.70z"/><path d="M1138.6 386.8l4.85 8.40h-9.70z"/><path d="M1150.0 386.5l4.85 8.40h-9.70z"/><path d="M1147.3 389.4l4.85 8.40h-9.70z"/><path d="M1233.9 386.1l4.85 8.40h-9.70z"/><path d="M1241.9 388.7l4.85 8.40h-9.70z"/><path d="M1239.2 391.6l4.85 8.40h-9.70z"/><path d="M1048.7 390.3l4.85 8.40h-9.70z"/><path d="M1050.1 390.3l4.85 8.40h-9.70z"/><path d="M1164.8 390.0l4.85 8.40h-9.70z"/><path d="M1170.2 392.6l4.85 8.40h-9.70z"/><path d="M1201.0 390.0l4.85 8.40h-9.70z"/><path d="M1219.1 390.0l4.85 8.40h-9.70z"/><path d="M1209.1 392.3l4.85 8.40h-9.70z"/><path d="M1211.7 391.9l4.85 8.40h-9.70z"/><path d="M1095.0 393.6l4.85 8.40h-9.70z"/><path d="M1146.0 393.9l4.85 8.40h-9.70z"/></g>
<path d="M1046.7 325.7 L1049.3 326.9 L1051.8 328.1 L1054.4 329.1 L1056.9 330.1 L1059.4 331.1 L1062.0 331.9 L1064.5 332.8 L1067.0 333.6 L1069.6 334.3 L1072.1 335.0 L1074.7 335.7 L1077.2 336.4 L1079.7 337.0 L1082.3 337.6 L1084.8 338.1 L1087.4 338.6 L1089.9 339.1 L1092.4 339.5 L1095.0 339.9 L1097.5 340.4 L1100.0 340.9 L1102.6 341.4 L1105.1 341.9 L1107.7 342.4 L1110.2 342.9 L1112.7 343.3 L1115.3 343.6 L1117.8 343.7 L1120.4 343.7 L1122.9 343.5 L1125.4 343.0 L1128.0 342.1 L1130.5 340.8 L1133.0 339.4 L1135.6 337.9 L1138.1 336.6 L1140.7 335.3 L1143.2 334.3 L1145.7 333.4 L1148.3 332.7 L1150.8 332.0 L1153.4 331.3 L1155.9 330.5 L1158.4 329.6 L1161.0 328.8 L1163.5 328.0 L1166.1 327.3 L1168.6 326.7 L1171.1 326.3 L1173.7 326.0 L1176.2 325.9 L1178.7 325.9 L1181.3 325.9 L1183.8 326.0 L1186.4 326.1 L1188.9 326.4 L1191.4 326.8 L1194.0 327.3 L1196.5 328.0 L1199.1 328.7 L1201.6 329.5 L1204.1 330.3 L1206.7 331.1 L1209.2 332.0 L1211.7 332.9 L1214.3 334.0 L1216.8 335.1 L1219.4 336.3 L1221.9 337.6 L1224.4 339.0 L1227.0 340.6 L1229.5 342.2 L1232.1 343.8 L1234.6 345.6 L1237.1 347.3 L1239.7 349.1 L1242.2 350.9 L1244.8 352.6 L1247.3 354.3" fill="none" stroke="#00f" stroke-width="4.3" stroke-linecap="round" stroke-linejoin="round"/>
<g fill="#f00" fill-opacity="0.5" shape-rendering="crispEdges"><circle cx="1073.6" cy="421.1" r="3.6"/><circle cx="1176.9" cy="420.1" r="3.6"/><circle cx="1090.3" cy="435.6" r="3.6"/><circle cx="1097.7" cy="435.3" r="3.6"/><circle cx="1058.1" cy="444.4" r="3.6"/><circle cx="1108.4" cy="444.4" r="3.6"/><circle cx="1193.0" cy="445.3" r="3.6"/><circle cx="1137.3" cy="449.2" r="3.6"/><circle cx="1139.3" cy="446.9" r="3.6"/><circle cx="1226.5" cy="450.2" r="3.6"/><circle cx="1090.3" cy="451.5" r="3.6"/><circle cx="1101.1" cy="450.8" r="3.6"/><circle cx="1178.9" cy="454.0" r="3.6"/><circle cx="1144.7" cy="454.7" r="3.6"/><circle cx="1159.4" cy="456.3" r="3.6"/><circle cx="1081.6" cy="457.6" r="3.6"/><circle cx="1244.6" cy="461.8" r="3.6"/><circle cx="1127.9" cy="468.2" r="3.6"/><circle cx="1153.4" cy="467.6" r="3.6"/><circle cx="1214.4" cy="467.9" r="3.6"/><circle cx="1173.5" cy="472.4" r="3.6"/><circle cx="1197.0" cy="472.4" r="3.6"/><circle cx="1246.6" cy="472.8" r="3.6"/><circle cx="1206.4" cy="477.3" r="3.6"/><circle cx="1215.1" cy="477.3" r="3.6"/><circle cx="1151.4" cy="479.5" r="3.6"/><circle cx="1061.5" cy="479.2" r="3.6"/><circle cx="1062.8" cy="479.2" r="3.6"/><circle cx="854.2" cy="415.0" r="3.6"/><circle cx="1015.2" cy="413.4" r="3.6"/><circle cx="848.2" cy="432.1" r="3.6"/><circle cx="865.6" cy="431.4" r="3.6"/><circle cx="938.1" cy="431.1" r="3.6"/><circle cx="913.9" cy="433.7" r="3.6"/><circle cx="856.9" cy="441.1" r="3.6"/><circle cx="1038.0" cy="441.4" r="3.6"/><circle cx="942.1" cy="451.5" r="3.6"/><circle cx="986.4" cy="451.8" r="3.6"/><circle cx="965.6" cy="454.4" r="3.6"/><circle cx="855.6" cy="458.2" r="3.6"/><circle cx="858.9" cy="461.5" r="3.6"/><circle cx="903.2" cy="457.6" r="3.6"/><circle cx="906.5" cy="461.8" r="3.6"/><circle cx="1030.0" cy="458.2" r="3.6"/><circle cx="1044.1" cy="461.5" r="3.6"/><circle cx="915.3" cy="462.4" r="3.6"/><circle cx="947.5" cy="466.6" r="3.6"/><circle cx="956.9" cy="467.6" r="3.6"/><circle cx="958.9" cy="467.6" r="3.6"/><circle cx="885.1" cy="467.6" r="3.6"/><circle cx="887.1" cy="467.6" r="3.6"/><circle cx="1005.8" cy="464.0" r="3.6"/><circle cx="1034.0" cy="469.2" r="3.6"/><circle cx="986.4" cy="470.5" r="3.6"/><circle cx="883.1" cy="472.8" r="3.6"/><circle cx="910.6" cy="471.8" r="3.6"/><circle cx="936.7" cy="473.4" r="3.6"/><circle cx="994.4" cy="472.8" r="3.6"/><circle cx="1006.5" cy="473.7" r="3.6"/><circle cx="849.5" cy="474.0" r="3.6"/><circle cx="922.0" cy="478.6" r="3.6"/><circle cx="942.8" cy="479.5" r="3.6"/><circle cx="851.5" cy="622.9" r="3.6"/><circle cx="898.5" cy="625.4" r="3.6"/><circle cx="926.0" cy="629.6" r="3.6"/><circle cx="871.7" cy="623.2" r="3.6"/><circle cx="876.4" cy="621.6" r="3.6"/><circle cx="871.7" cy="626.7" r="3.6"/><circle cx="858.3" cy="633.2" r="3.6"/><circle cx="860.3" cy="636.4" r="3.6"/><circle cx="866.3" cy="632.2" r="3.6"/><circle cx="881.1" cy="640.3" r="3.6"/><circle cx="946.1" cy="639.6" r="3.6"/><circle cx="952.8" cy="643.2" r="3.6"/><circle cx="956.9" cy="646.7" r="3.6"/><circle cx="958.2" cy="646.7" r="3.6"/><circle cx="995.1" cy="630.3" r="3.6"/><circle cx="1004.5" cy="630.3" r="3.6"/><circle cx="1009.8" cy="633.2" r="3.6"/><circle cx="1016.6" cy="636.7" r="3.6"/><circle cx="1028.0" cy="626.4" r="3.6"/><circle cx="1032.0" cy="633.2" r="3.6"/><circle cx="993.1" cy="638.4" r="3.6"/><circle cx="975.0" cy="643.5" r="3.6"/><circle cx="1001.1" cy="645.1" r="3.6"/><circle cx="1002.5" cy="645.1" r="3.6"/><circle cx="999.8" cy="648.4" r="3.6"/><circle cx="1030.0" cy="643.2" r="3.6"/><circle cx="1042.0" cy="643.2" r="3.6"/><circle cx="1031.3" cy="649.7" r="3.6"/><circle cx="854.2" cy="649.7" r="3.6"/><circle cx="873.0" cy="649.7" r="3.6"/><circle cx="897.2" cy="647.1" r="3.6"/><circle cx="905.2" cy="650.3" r="3.6"/><circle cx="918.0" cy="647.1" r="3.6"/><circle cx="946.1" cy="653.2" r="3.6"/><circle cx="973.6" cy="657.1" r="3.6"/><circle cx="850.9" cy="658.7" r="3.6"/><circle cx="992.4" cy="660.3" r="3.6"/><circle cx="1039.4" cy="661.3" r="3.6"/><circle cx="995.8" cy="669.0" r="3.6"/><circle cx="1050.8" cy="672.6" r="3.6"/><circle cx="1024.6" cy="674.5" r="3.6"/><circle cx="882.4" cy="676.8" r="3.6"/><circle cx="1046.1" cy="680.3" r="3.6"/><circle cx="952.8" cy="682.9" r="3.6"/><circle cx="1010.5" cy="695.8" r="3.6"/><circle cx="1046.1" cy="696.1" r="3.6"/><circle cx="981.0" cy="700.0" r="3.6"/><circle cx="873.7" cy="711.6" r="3.6"/><circle cx="974.3" cy="721.6" r="3.6"/><circle cx="1020.6" cy="734.5" r="3.6"/><circle cx="1054.8" cy="648.4" r="3.6"/><circle cx="1056.1" cy="664.2" r="3.6"/><circle cx="1160.8" cy="622.2" r="3.6"/><circle cx="1170.8" cy="621.6" r="3.6"/><circle cx="1192.3" cy="621.6" r="3.6"/><circle cx="1216.4" cy="625.4" r="3.6"/><circle cx="1160.1" cy="630.6" r="3.6"/><circle cx="1182.2" cy="633.2" r="3.6"/><circle cx="1239.2" cy="631.9" r="3.6"/><circle cx="1130.6" cy="636.7" r="3.6"/><circle cx="1170.2" cy="640.6" r="3.6"/><circle cx="1205.0" cy="637.4" r="3.6"/><circle cx="1202.3" cy="641.3" r="3.6"/><circle cx="1207.7" cy="641.3" r="3.6"/><circle cx="1236.6" cy="639.0" r="3.6"/><circle cx="1092.3" cy="644.5" r="3.6"/><circle cx="1156.1" cy="648.4" r="3.6"/><circle cx="1117.8" cy="655.1" r="3.6"/><circle cx="1148.0" cy="656.1" r="3.6"/><circle cx="1175.5" cy="659.7" r="3.6"/><circle cx="1163.4" cy="662.6" r="3.6"/><circle cx="1115.2" cy="663.2" r="3.6"/><circle cx="1085.6" cy="673.5" r="3.6"/><circle cx="1122.5" cy="384.6" r="3.6"/><circle cx="1131.2" cy="483.1" r="3.6"/><circle cx="1088.3" cy="486.3" r="3.6"/><circle cx="1082.3" cy="489.9" r="3.6"/><circle cx="1094.4" cy="487.9" r="3.6"/><circle cx="1103.1" cy="489.2" r="3.6"/><circle cx="1181.6" cy="487.9" r="3.6"/><circle cx="1148.0" cy="486.3" r="3.6"/><circle cx="1144.7" cy="491.8" r="3.6"/><circle cx="1145.3" cy="491.8" r="3.6"/><circle cx="1149.4" cy="495.0" r="3.6"/><circle cx="1121.9" cy="491.5" r="3.6"/><circle cx="1170.8" cy="492.4" r="3.6"/><circle cx="1172.2" cy="492.4" r="3.6"/><circle cx="1247.3" cy="492.1" r="3.6"/><circle cx="1064.8" cy="493.1" r="3.6"/><circle cx="1059.5" cy="496.3" r="3.6"/><circle cx="1060.8" cy="496.3" r="3.6"/><circle cx="1196.3" cy="494.1" r="3.6"/><circle cx="1208.4" cy="493.1" r="3.6"/><circle cx="1231.2" cy="493.1" r="3.6"/><circle cx="1227.2" cy="496.6" r="3.6"/><circle cx="1233.2" cy="498.3" r="3.6"/><circle cx="1049.4" cy="499.2" r="3.6"/><circle cx="1050.8" cy="499.2" r="3.6"/><circle cx="1129.2" cy="499.2" r="3.6"/><circle cx="1130.6" cy="499.2" r="3.6"/><circle cx="1069.5" cy="500.8" r="3.6"/><circle cx="1112.5" cy="501.2" r="3.6"/><circle cx="1165.5" cy="500.5" r="3.6"/><circle cx="1221.1" cy="500.2" r="3.6"/><circle cx="1063.5" cy="503.7" r="3.6"/><circle cx="1239.2" cy="504.7" r="3.6"/><circle cx="1211.1" cy="505.7" r="3.6"/><circle cx="1212.4" cy="505.7" r="3.6"/><circle cx="1095.0" cy="509.2" r="3.6"/><circle cx="1219.1" cy="508.9" r="3.6"/><circle cx="1048.1" cy="511.2" r="3.6"/><circle cx="1062.8" cy="513.8" r="3.6"/><circle cx="1074.2" cy="514.1" r="3.6"/><circle cx="1243.3" cy="513.4" r="3.6"/><circle cx="1176.2" cy="515.0" r="3.6"/><circle cx="1103.7" cy="515.7" r="3.6"/><circle cx="1105.1" cy="515.7" r="3.6"/><circle cx="1108.4" cy="515.7" r="3.6"/><circle cx="1115.2" cy="516.0" r="3.6"/><circle cx="1123.9" cy="518.0" r="3.6"/><circle cx="1125.2" cy="518.0" r="3.6"/><circle cx="1094.4" cy="518.3" r="3.6"/><circle cx="1054.1" cy="518.6" r="3.6"/><circle cx="1055.5" cy="518.6" r="3.6"/><circle cx="1140.6" cy="519.2" r="3.6"/><circle cx="1074.2" cy="519.6" r="3.6"/><circle cx="1133.9" cy="519.9" r="3.6"/><circle cx="1164.1" cy="519.2" r="3.6"/><circle cx="1233.9" cy="517.6" r="3.6"/><circle cx="1240.6" cy="517.6" r="3.6"/><circle cx="1105.8" cy="522.8" r="3.6"/><circle cx="1064.8" cy="523.8" r="3.6"/><circle cx="1136.6" cy="525.1" r="3.6"/><circle cx="1188.3" cy="525.1" r="3.6"/><circle cx="1185.6" cy="528.3" r="3.6"/><circle cx="1191.6" cy="528.6" r="3.6"/><circle cx="1220.5" cy="526.7" r="3.6"/><circle cx="1236.6" cy="525.1" r="3.6"/><circle cx="1237.9" cy="525.1" r="3.6"/><circle cx="1201.7" cy="527.0" r="3.6"/><circle cx="1066.9" cy="529.2" r="3.6"/><circle cx="1168.1" cy="528.3" r="3.6"/><circle cx="1133.9" cy="528.6" r="3.6"/><circle cx="1135.3" cy="528.6" r="3.6"/><circle cx="1105.1" cy="529.9" r="3.6"/><circle cx="1107.8" cy="533.1" r="3.6"/><circle cx="1111.8" cy="534.1" r="3.6"/><circle cx="1245.3" cy="529.9" r="3.6"/><circle cx="1226.5" cy="529.9" r="3.6"/><circle cx="1223.1" cy="531.5" r="3.6"/><circle cx="1229.8" cy="532.5" r="3.6"/><circle cx="1231.2" cy="532.5" r="3.6"/><circle cx="1229.8" cy="536.7" r="3.6"/><circle cx="1156.1" cy="532.2" r="3.6"/><circle cx="1157.4" cy="532.2" r="3.6"/><circle cx="1079.6" cy="533.4" r="3.6"/><circle cx="1088.3" cy="533.8" r="3.6"/><circle cx="1120.5" cy="533.1" r="3.6"/><circle cx="1142.7" cy="534.1" r="3.6"/><circle cx="1194.3" cy="535.1" r="3.6"/><circle cx="1239.9" cy="533.4" r="3.6"/><circle cx="1054.1" cy="537.6" r="3.6"/><circle cx="1068.2" cy="538.3" r="3.6"/><circle cx="1072.2" cy="535.7" r="3.6"/><circle cx="1119.2" cy="539.3" r="3.6"/><circle cx="1174.2" cy="538.9" r="3.6"/><circle cx="1178.2" cy="537.6" r="3.6"/><circle cx="1225.8" cy="540.9" r="3.6"/><circle cx="1183.6" cy="540.2" r="3.6"/><circle cx="1184.2" cy="544.1" r="3.6"/><circle cx="1185.6" cy="544.1" r="3.6"/><circle cx="1051.4" cy="542.5" r="3.6"/><circle cx="1204.4" cy="544.1" r="3.6"/><circle cx="1198.3" cy="545.1" r="3.6"/><circle cx="1138.6" cy="546.4" r="3.6"/><circle cx="1126.6" cy="547.6" r="3.6"/><circle cx="1166.1" cy="548.3" r="3.6"/><circle cx="1172.2" cy="549.3" r="3.6"/><circle cx="1099.7" cy="549.9" r="3.6"/><circle cx="1212.4" cy="550.9" r="3.6"/><circle cx="1237.2" cy="550.9" r="3.6"/><circle cx="1070.2" cy="552.5" r="3.6"/><circle cx="1075.6" cy="551.5" r="3.6"/><circle cx="1116.5" cy="551.5" r="3.6"/><circle cx="1125.2" cy="552.5" r="3.6"/><circle cx="1190.9" cy="553.5" r="3.6"/><circle cx="1208.4" cy="552.5" r="3.6"/><circle cx="1089.0" cy="554.1" r="3.6"/><circle cx="1052.8" cy="557.7" r="3.6"/><circle cx="1066.2" cy="557.0" r="3.6"/><circle cx="1078.3" cy="557.7" r="3.6"/><circle cx="1089.7" cy="556.7" r="3.6"/><circle cx="1106.4" cy="557.7" r="3.6"/><circle cx="1140.0" cy="556.4" r="3.6"/><circle cx="1151.4" cy="556.7" r="3.6"/><circle cx="1225.2" cy="557.7" r="3.6"/><circle cx="1235.2" cy="560.2" r="3.6"/><circle cx="1121.9" cy="560.9" r="3.6"/><circle cx="1157.4" cy="561.2" r="3.6"/><circle cx="1048.1" cy="564.8" r="3.6"/><circle cx="1080.9" cy="563.5" r="3.6"/><circle cx="1077.6" cy="566.4" r="3.6"/><circle cx="1144.0" cy="564.1" r="3.6"/><circle cx="1150.0" cy="564.1" r="3.6"/><circle cx="1094.4" cy="564.8" r="3.6"/><circle cx="1099.1" cy="565.7" r="3.6"/><circle cx="1091.0" cy="568.3" r="3.6"/><circle cx="1092.3" cy="568.3" r="3.6"/><circle cx="1087.0" cy="568.6" r="3.6"/><circle cx="1129.9" cy="566.0" r="3.6"/><circle cx="1188.3" cy="566.0" r="3.6"/><circle cx="1189.6" cy="566.0" r="3.6"/><circle cx="1183.6" cy="569.6" r="3.6"/><circle cx="1198.3" cy="565.4" r="3.6"/><circle cx="1153.4" cy="569.3" r="3.6"/><circle cx="1154.7" cy="569.3" r="3.6"/><circle cx="1167.5" cy="569.9" r="3.6"/><circle cx="1168.8" cy="569.9" r="3.6"/><circle cx="1228.5" cy="569.6" r="3.6"/><circle cx="1221.8" cy="569.3" r="3.6"/><circle cx="1215.1" cy="570.9" r="3.6"/><circle cx="1057.5" cy="571.5" r="3.6"/><circle cx="1064.8" cy="573.1" r="3.6"/><circle cx="1070.9" cy="573.1" r="3.6"/><circle cx="1119.8" cy="571.5" r="3.6"/><circle cx="1109.8" cy="573.1" r="3.6"/><circle cx="1113.1" cy="574.8" r="3.6"/><circle cx="1158.8" cy="575.1" r="3.6"/><circle cx="1174.8" cy="575.1" r="3.6"/><circle cx="1211.1" cy="573.5" r="3.6"/><circle cx="1212.4" cy="573.5" r="3.6"/><circle cx="1216.4" cy="576.7" r="3.6"/><circle cx="1097.7" cy="576.4" r="3.6"/><circle cx="1099.1" cy="576.4" r="3.6"/><circle cx="1187.6" cy="577.3" r="3.6"/><circle cx="1055.5" cy="580.9" r="3.6"/><circle cx="1135.9" cy="580.6" r="3.6"/><circle cx="1146.7" cy="579.3" r="3.6"/><circle cx="1150.0" cy="580.6" r="3.6"/><circle cx="1180.2" cy="579.9" r="3.6"/><circle cx="1111.8" cy="580.9" r="3.6"/><circle cx="1113.1" cy="580.9" r="3.6"/><circle cx="1111.1" cy="583.5" r="3.6"/><circle cx="1085.0" cy="581.5" r="3.6"/><circle cx="1086.3" cy="585.7" r="3.6"/><circle cx="1205.7" cy="580.9" r="3.6"/><circle cx="1206.4" cy="584.1" r="3.6"/><circle cx="1067.5" cy="584.1" r="3.6"/><circle cx="1068.2" cy="588.3" r="3.6"/><circle cx="1162.8" cy="583.8" r="3.6"/><circle cx="1232.5" cy="585.4" r="3.6"/><circle cx="1233.9" cy="585.4" r="3.6"/><circle cx="1238.6" cy="586.7" r="3.6"/><circle cx="1193.6" cy="586.7" r="3.6"/><circle cx="1076.2" cy="589.3" r="3.6"/><circle cx="1109.8" cy="589.3" r="3.6"/><circle cx="1116.5" cy="589.6" r="3.6"/><circle cx="1123.9" cy="589.3" r="3.6"/><circle cx="1135.3" cy="589.3" r="3.6"/><circle cx="1202.3" cy="589.9" r="3.6"/><circle cx="1154.1" cy="592.2" r="3.6"/><circle cx="1162.8" cy="594.8" r="3.6"/><circle cx="1164.1" cy="594.8" r="3.6"/><circle cx="1177.5" cy="592.5" r="3.6"/><circle cx="1178.9" cy="592.5" r="3.6"/><circle cx="1217.8" cy="593.5" r="3.6"/><circle cx="1219.1" cy="593.5" r="3.6"/><circle cx="1245.3" cy="594.1" r="3.6"/><circle cx="1072.2" cy="594.1" r="3.6"/><circle cx="1084.3" cy="594.8" r="3.6"/><circle cx="1080.3" cy="597.4" r="3.6"/><circle cx="1102.4" cy="595.1" r="3.6"/><circle cx="1114.5" cy="595.1" r="3.6"/><circle cx="1132.6" cy="595.1" r="3.6"/><circle cx="1081.6" cy="599.9" r="3.6"/><circle cx="1141.3" cy="599.9" r="3.6"/><circle cx="1104.4" cy="601.2" r="3.6"/><circle cx="1125.9" cy="602.8" r="3.6"/><circle cx="1137.3" cy="605.1" r="3.6"/><circle cx="1142.7" cy="605.8" r="3.6"/><circle cx="1146.7" cy="608.3" r="3.6"/><circle cx="1084.3" cy="605.1" r="3.6"/><circle cx="1195.0" cy="602.8" r="3.6"/><circle cx="1201.0" cy="603.5" r="3.6"/><circle cx="1197.7" cy="606.7" r="3.6"/><circle cx="1222.5" cy="604.1" r="3.6"/><circle cx="1223.8" cy="604.1" r="3.6"/><circle cx="1229.8" cy="603.5" r="3.6"/><circle cx="1058.1" cy="607.0" r="3.6"/><circle cx="1047.4" cy="609.3" r="3.6"/><circle cx="1182.9" cy="609.3" r="3.6"/><circle cx="1184.2" cy="609.3" r="3.6"/><circle cx="1204.4" cy="608.3" r="3.6"/><circle cx="1209.1" cy="611.9" r="3.6"/><circle cx="1210.4" cy="611.9" r="3.6"/><circle cx="1195.0" cy="609.9" r="3.6"/><circle cx="1076.9" cy="612.5" r="3.6"/><circle cx="1128.6" cy="612.5" r="3.6"/><circle cx="1133.3" cy="611.2" r="3.6"/><circle cx="1243.3" cy="614.1" r="3.6"/><circle cx="1241.9" cy="617.4" r="3.6"/><circle cx="1117.2" cy="616.7" r="3.6"/><circle cx="1089.0" cy="618.0" r="3.6"/><circle cx="1110.5" cy="619.3" r="3.6"/><circle cx="1218.4" cy="618.3" r="3.6"/><circle cx="892.5" cy="481.2" r="3.6"/><circle cx="897.8" cy="481.2" r="3.6"/><circle cx="879.7" cy="485.0" r="3.6"/><circle cx="899.8" cy="489.2" r="3.6"/><circle cx="885.8" cy="490.8" r="3.6"/><circle cx="929.4" cy="487.3" r="3.6"/><circle cx="859.6" cy="499.2" r="3.6"/><circle cx="883.1" cy="498.6" r="3.6"/><circle cx="884.4" cy="502.8" r="3.6"/><circle cx="923.3" cy="498.6" r="3.6"/><circle cx="917.3" cy="503.1" r="3.6"/><circle cx="932.0" cy="503.1" r="3.6"/><circle cx="944.8" cy="503.7" r="3.6"/><circle cx="846.9" cy="505.7" r="3.6"/><circle cx="850.2" cy="504.4" r="3.6"/><circle cx="853.6" cy="504.4" r="3.6"/><circle cx="846.2" cy="508.6" r="3.6"/><circle cx="851.5" cy="510.2" r="3.6"/><circle cx="853.6" cy="512.8" r="3.6"/><circle cx="868.3" cy="507.9" r="3.6"/><circle cx="911.9" cy="507.9" r="3.6"/><circle cx="924.0" cy="514.1" r="3.6"/><circle cx="874.4" cy="515.0" r="3.6"/><circle cx="869.0" cy="516.7" r="3.6"/><circle cx="936.1" cy="517.3" r="3.6"/><circle cx="887.8" cy="518.0" r="3.6"/><circle cx="893.1" cy="520.2" r="3.6"/><circle cx="893.8" cy="520.9" r="3.6"/><circle cx="891.1" cy="524.4" r="3.6"/><circle cx="896.5" cy="526.0" r="3.6"/><circle cx="861.6" cy="519.9" r="3.6"/><circle cx="846.9" cy="520.9" r="3.6"/><circle cx="851.5" cy="521.2" r="3.6"/><circle cx="845.5" cy="525.1" r="3.6"/><circle cx="920.0" cy="523.1" r="3.6"/><circle cx="871.0" cy="528.3" r="3.6"/><circle cx="856.2" cy="530.9" r="3.6"/><circle cx="862.3" cy="534.4" r="3.6"/><circle cx="878.4" cy="533.1" r="3.6"/><circle cx="885.8" cy="534.4" r="3.6"/><circle cx="889.8" cy="536.7" r="3.6"/><circle cx="904.5" cy="532.5" r="3.6"/><circle cx="909.2" cy="538.3" r="3.6"/><circle cx="928.7" cy="530.2" r="3.6"/><circle cx="924.7" cy="533.8" r="3.6"/><circle cx="924.0" cy="537.0" r="3.6"/><circle cx="937.4" cy="528.9" r="3.6"/><circle cx="929.4" cy="541.2" r="3.6"/><circle cx="948.8" cy="528.6" r="3.6"/><circle cx="948.8" cy="533.8" r="3.6"/><circle cx="877.0" cy="543.1" r="3.6"/><circle cx="894.5" cy="546.0" r="3.6"/><circle cx="865.0" cy="553.8" r="3.6"/><circle cx="915.3" cy="551.8" r="3.6"/><circle cx="910.6" cy="551.2" r="3.6"/><circle cx="924.7" cy="551.2" r="3.6"/><circle cx="934.0" cy="553.8" r="3.6"/><circle cx="960.9" cy="480.2" r="3.6"/><circle cx="975.6" cy="483.4" r="3.6"/><circle cx="983.0" cy="484.4" r="3.6"/><circle cx="997.1" cy="486.3" r="3.6"/><circle cx="962.9" cy="487.0" r="3.6"/><circle cx="1012.5" cy="487.3" r="3.6"/><circle cx="957.5" cy="492.8" r="3.6"/><circle cx="968.3" cy="492.8" r="3.6"/><circle cx="971.6" cy="496.6" r="3.6"/><circle cx="980.3" cy="492.8" r="3.6"/><circle cx="988.4" cy="495.4" r="3.6"/><circle cx="992.4" cy="495.4" r="3.6"/><circle cx="1007.8" cy="494.1" r="3.6"/><circle cx="1032.0" cy="492.1" r="3.6"/><circle cx="1038.7" cy="497.9" r="3.6"/><circle cx="966.2" cy="499.2" r="3.6"/><circle cx="982.3" cy="506.0" r="3.6"/><circle cx="962.2" cy="507.3" r="3.6"/><circle cx="1028.6" cy="509.2" r="3.6"/><circle cx="1036.7" cy="508.3" r="3.6"/><circle cx="969.6" cy="512.8" r="3.6"/><circle cx="978.3" cy="515.4" r="3.6"/><circle cx="953.5" cy="517.0" r="3.6"/><circle cx="951.5" cy="522.1" r="3.6"/><circle cx="1017.2" cy="517.0" r="3.6"/><circle cx="1022.6" cy="517.0" r="3.6"/><circle cx="1015.2" cy="522.1" r="3.6"/><circle cx="1033.3" cy="522.5" r="3.6"/><circle cx="1003.1" cy="525.4" r="3.6"/><circle cx="973.0" cy="526.0" r="3.6"/><circle cx="958.9" cy="527.0" r="3.6"/><circle cx="984.4" cy="528.3" r="3.6"/><circle cx="989.1" cy="531.2" r="3.6"/><circle cx="990.4" cy="533.8" r="3.6"/><circle cx="1019.2" cy="528.0" r="3.6"/><circle cx="1019.9" cy="528.0" r="3.6"/><circle cx="1027.3" cy="526.0" r="3.6"/><circle cx="1043.4" cy="528.0" r="3.6"/><circle cx="1044.1" cy="528.0" r="3.6"/><circle cx="1041.4" cy="530.2" r="3.6"/><circle cx="1044.1" cy="533.8" r="3.6"/><circle cx="973.0" cy="535.4" r="3.6"/><circle cx="1023.3" cy="537.0" r="3.6"/><circle cx="1035.3" cy="537.0" r="3.6"/><circle cx="1036.7" cy="537.0" r="3.6"/><circle cx="954.8" cy="538.9" r="3.6"/><circle cx="984.4" cy="538.9" r="3.6"/><circle cx="1017.2" cy="542.5" r="3.6"/><circle cx="1043.4" cy="541.2" r="3.6"/><circle cx="997.8" cy="547.0" r="3.6"/><circle cx="1000.5" cy="545.7" r="3.6"/><circle cx="990.4" cy="549.9" r="3.6"/><circle cx="1008.5" cy="551.8" r="3.6"/><circle cx="964.2" cy="548.9" r="3.6"/><circle cx="1026.6" cy="553.8" r="3.6"/><circle cx="895.8" cy="556.0" r="3.6"/><circle cx="871.7" cy="560.2" r="3.6"/><circle cx="875.7" cy="561.2" r="3.6"/><circle cx="876.4" cy="566.0" r="3.6"/><circle cx="887.8" cy="561.2" r="3.6"/><circle cx="888.4" cy="561.2" r="3.6"/><circle cx="922.0" cy="556.4" r="3.6"/><circle cx="934.0" cy="556.4" r="3.6"/><circle cx="940.8" cy="560.6" r="3.6"/><circle cx="944.1" cy="563.1" r="3.6"/><circle cx="909.2" cy="565.1" r="3.6"/><circle cx="909.9" cy="565.1" r="3.6"/><circle cx="913.9" cy="565.4" r="3.6"/><circle cx="920.6" cy="564.8" r="3.6"/><circle cx="920.6" cy="570.6" r="3.6"/><circle cx="850.2" cy="572.5" r="3.6"/><circle cx="879.0" cy="574.1" r="3.6"/><circle cx="900.5" cy="569.6" r="3.6"/><circle cx="901.9" cy="574.8" r="3.6"/><circle cx="907.2" cy="576.7" r="3.6"/><circle cx="901.2" cy="579.6" r="3.6"/><circle cx="930.7" cy="573.8" r="3.6"/><circle cx="932.7" cy="577.7" r="3.6"/><circle cx="940.1" cy="578.3" r="3.6"/><circle cx="948.1" cy="578.3" r="3.6"/><circle cx="857.6" cy="584.8" r="3.6"/><circle cx="928.0" cy="584.1" r="3.6"/><circle cx="931.4" cy="583.2" r="3.6"/><circle cx="846.2" cy="587.0" r="3.6"/><circle cx="863.6" cy="592.5" r="3.6"/><circle cx="862.3" cy="598.3" r="3.6"/><circle cx="891.1" cy="592.2" r="3.6"/><circle cx="895.8" cy="591.2" r="3.6"/><circle cx="880.4" cy="593.8" r="3.6"/><circle cx="881.1" cy="599.6" r="3.6"/><circle cx="938.7" cy="592.8" r="3.6"/><circle cx="901.9" cy="598.0" r="3.6"/><circle cx="908.6" cy="599.3" r="3.6"/><circle cx="932.0" cy="596.4" r="3.6"/><circle cx="918.6" cy="602.2" r="3.6"/><circle cx="927.3" cy="600.9" r="3.6"/><circle cx="944.1" cy="602.2" r="3.6"/><circle cx="939.4" cy="600.6" r="3.6"/><circle cx="899.2" cy="606.4" r="3.6"/><circle cx="903.2" cy="606.1" r="3.6"/><circle cx="865.0" cy="612.2" r="3.6"/><circle cx="935.4" cy="613.5" r="3.6"/><circle cx="913.3" cy="614.8" r="3.6"/><circle cx="920.0" cy="619.3" r="3.6"/><circle cx="868.3" cy="617.7" r="3.6"/><circle cx="875.0" cy="616.7" r="3.6"/><circle cx="981.0" cy="565.4" r="3.6"/><circle cx="1013.2" cy="567.0" r="3.6"/><circle cx="1021.9" cy="570.6" r="3.6"/><circle cx="1035.3" cy="566.0" r="3.6"/><circle cx="956.2" cy="574.1" r="3.6"/><circle cx="968.9" cy="572.5" r="3.6"/><circle cx="1013.9" cy="573.1" r="3.6"/><circle cx="1014.5" cy="573.1" r="3.6"/><circle cx="1010.5" cy="576.4" r="3.6"/><circle cx="1029.3" cy="573.8" r="3.6"/><circle cx="1040.0" cy="575.1" r="3.6"/><circle cx="1003.8" cy="578.0" r="3.6"/><circle cx="1017.9" cy="578.0" r="3.6"/><circle cx="1015.9" cy="580.9" r="3.6"/><circle cx="1011.2" cy="581.2" r="3.6"/><circle cx="1021.2" cy="583.5" r="3.6"/><circle cx="979.7" cy="587.0" r="3.6"/><circle cx="993.1" cy="588.3" r="3.6"/><circle cx="960.9" cy="594.1" r="3.6"/><circle cx="961.6" cy="594.1" r="3.6"/><circle cx="965.6" cy="596.4" r="3.6"/><circle cx="954.2" cy="598.3" r="3.6"/><circle cx="967.6" cy="601.2" r="3.6"/><circle cx="1007.8" cy="595.4" r="3.6"/><circle cx="1025.9" cy="599.9" r="3.6"/><circle cx="1026.6" cy="599.9" r="3.6"/><circle cx="1022.6" cy="603.8" r="3.6"/><circle cx="1034.7" cy="601.2" r="3.6"/><circle cx="1040.0" cy="598.3" r="3.6"/><circle cx="995.8" cy="602.8" r="3.6"/><circle cx="999.1" cy="606.1" r="3.6"/><circle cx="1005.1" cy="607.0" r="3.6"/><circle cx="1009.8" cy="606.4" r="3.6"/><circle cx="976.3" cy="611.9" r="3.6"/><circle cx="977.6" cy="611.9" r="3.6"/><circle cx="969.6" cy="612.9" r="3.6"/><circle cx="973.0" cy="616.4" r="3.6"/><circle cx="979.0" cy="617.1" r="3.6"/><circle cx="969.6" cy="619.0" r="3.6"/><circle cx="962.9" cy="616.4" r="3.6"/><circle cx="934.7" cy="500.2" r="3.6"/><circle cx="1001.8" cy="568.6" r="3.6"/><circle cx="1009.2" cy="583.2" r="3.6"/><circle cx="946.8" cy="563.8" r="3.6"/><circle cx="981.7" cy="569.3" r="3.6"/><circle cx="941.4" cy="577.0" r="3.6"/><circle cx="1045.4" cy="526.3" r="3.6"/><circle cx="886.4" cy="532.5" r="3.6"/><circle cx="921.3" cy="491.5" r="3.6"/><circle cx="895.1" cy="587.0" r="3.6"/><circle cx="903.9" cy="587.7" r="3.6"/><circle cx="911.2" cy="558.6" r="3.6"/><circle cx="847.5" cy="532.2" r="3.6"/><circle cx="852.9" cy="568.6" r="3.6"/></g>
<path d="M845.5 542.5 L848.0 543.4 L850.6 544.2 L853.1 544.9 L855.7 545.6 L858.2 546.3 L860.7 546.8 L863.3 547.4 L865.8 547.9 L868.4 548.3 L870.9 548.7 L873.4 549.0 L876.0 549.3 L878.5 549.5 L881.1 549.6 L883.6 549.7 L886.1 549.7 L888.7 549.7 L891.2 549.6 L893.7 549.4 L896.3 549.2 L898.8 549.0 L901.4 548.6 L903.9 548.1 L906.4 547.6 L909.0 547.1 L911.5 546.6 L914.1 546.2 L916.6 545.9 L919.1 545.7 L921.7 545.7 L924.2 545.9 L926.7 546.2 L929.3 546.7 L931.8 547.3 L934.4 547.9 L936.9 548.5 L939.4 549.2 L942.0 549.9 L944.5 550.6 L947.1 551.2 L949.6 551.9 L952.1 552.5 L954.7 553.2 L957.2 553.9 L959.8 554.6 L962.3 555.3 L964.8 556.0 L967.4 556.7 L969.9 557.4 L972.4 558.1 L975.0 558.8 L977.5 559.4 L980.1 560.0 L982.6 560.6 L985.1 561.1 L987.7 561.6 L990.2 562.0 L992.8 562.4 L995.3 562.7 L997.8 563.0 L1000.4 563.1 L1002.9 563.3 L1005.4 563.4 L1008.0 563.4 L1010.5 563.4 L1013.1 563.4 L1015.6 563.3 L1018.1 563.2 L1020.7 563.0 L1023.2 562.8 L1025.8 562.5 L1028.3 562.1 L1030.8 561.7 L1033.4 561.3 L1035.9 560.8 L1038.4 560.2 L1041.0 559.7 L1043.5 559.1 L1046.1 558.6" fill="none" stroke="#f00" stroke-width="4.3" stroke-linecap="round" stroke-linejoin="round"/>
<path d="M1046.7 552.7 L1049.3 552.0 L1051.8 551.3 L1054.4 550.7 L1056.9 550.2 L1059.4 549.7 L1062.0 549.3 L1064.5 548.9 L1067.0 548.6 L1069.6 548.3 L1072.1 548.0 L1074.7 547.7 L1077.2 547.5 L1079.7 547.3 L1082.3 547.2 L1084.8 547.1 L1087.4 547.0 L1089.9 547.0 L1092.4 546.9 L1095.0 547.0 L1097.5 547.0 L1100.0 547.0 L1102.6 547.1 L1105.1 547.2 L1107.7 547.3 L1110.2 547.4 L1112.7 547.5 L1115.3 547.7 L1117.8 547.8 L1120.4 548.0 L1122.9 548.2 L1125.4 548.5 L1128.0 548.7 L1130.5 549.0 L1133.0 549.3 L1135.6 549.6 L1138.1 549.9 L1140.7 550.3 L1143.2 550.7 L1145.7 551.2 L1148.3 551.6 L1150.8 552.1 L1153.4 552.6 L1155.9 553.1 L1158.4 553.6 L1161.0 554.1 L1163.5 554.6 L1166.1 555.1 L1168.6 555.5 L1171.1 556.0 L1173.7 556.4 L1176.2 556.8 L1178.7 557.1 L1181.3 557.4 L1183.8 557.7 L1186.4 557.9 L1188.9 558.1 L1191.4 558.2 L1194.0 558.2 L1196.5 558.1 L1199.1 557.9 L1201.6 557.6 L1204.1 557.3 L1206.7 556.8 L1209.2 556.2 L1211.7 555.6 L1214.3 554.9 L1216.8 554.2 L1219.4 553.4 L1221.9 552.6 L1224.4 551.7 L1227.0 550.6 L1229.5 549.4 L1232.1 548.2 L1234.6 546.8 L1237.1 545.4 L1239.7 543.9 L1242.2 542.5 L1244.8 541.0 L1247.3 539.6" fill="none" stroke="#f00" stroke-width="4.3" stroke-linecap="round" stroke-linejoin="round"/>
<g stroke="#000" stroke-width="2" fill="none" stroke-linecap="round" stroke-linejoin="round">
<rect x="829.44" y="157.44" width="433.92" height="606.72"/>
<path d="M844.84 764.16H1247.29M844.84 764.16v19.2M911.92 764.16v19.2M978.99 764.16v19.2M1046.06 764.16v19.2M1113.14 764.16v19.2M1180.21 764.16v19.2M1247.29 764.16v19.2"/>
<path d="M829.44 675.80V191.60M829.44 675.80h-19.2M829.44 514.40h-19.2M829.44 353.00h-19.2M829.44 191.60h-19.2"/>
</g>
<text x="844.84" y="832.68" font-size="32" text-anchor="middle">0</text>
<text x="911.92" y="832.68" font-size="32" text-anchor="middle">100</text>
<text x="1046.06" y="832.68" font-size="32" text-anchor="middle">300</text>
<text x="1180.21" y="832.68" font-size="32" text-anchor="middle">500</text>
<text transform="translate(783.06 675.80) rotate(-90)" font-size="32" text-anchor="middle">0.5</text>
<text transform="translate(783.06 514.40) rotate(-90)" font-size="32" text-anchor="middle">1.0</text>
<text transform="translate(783.06 353.00) rotate(-90)" font-size="32" text-anchor="middle">1.5</text>
<text transform="translate(783.06 191.60) rotate(-90)" font-size="32" text-anchor="middle">2.0</text>
<text x="1046.40" y="909.48" font-size="32" text-anchor="middle">T</text>
<text transform="translate(705.66 460.40) rotate(-90)" font-size="32" text-anchor="middle">Q</text>
<text x="1046.90" y="92.80" font-size="38.45" text-anchor="middle">Effect of Cost Shock on Quantity</text>
</svg>
</body></html>
